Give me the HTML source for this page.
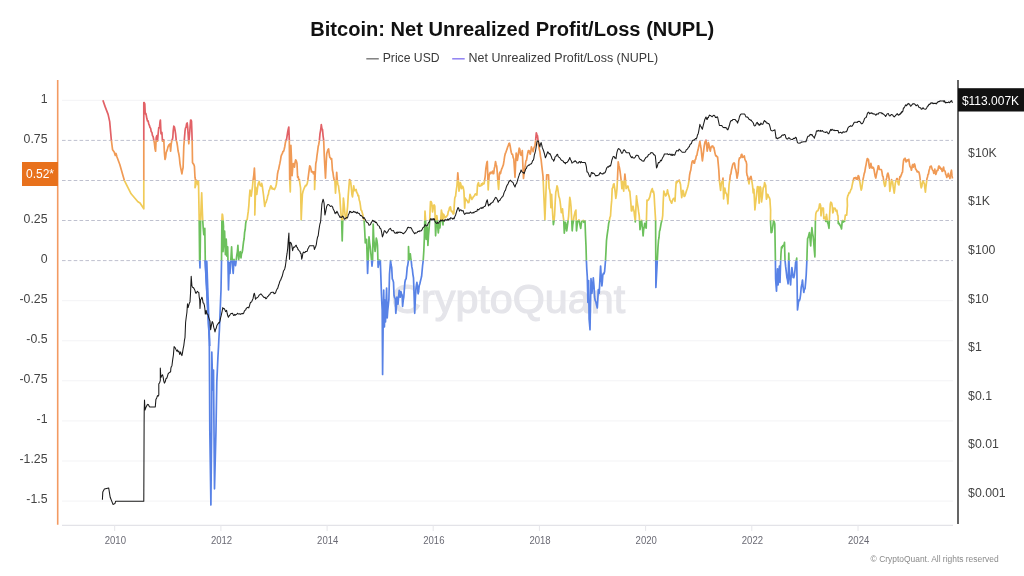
<!DOCTYPE html>
<html><head><meta charset="utf-8"><style>
html,body{margin:0;padding:0;background:#fff;}
body{width:1024px;height:576px;overflow:hidden;position:relative;font-family:"Liberation Sans",sans-serif;}
svg{position:absolute;left:0;top:0;will-change:transform;}
.ax{font-size:12.3px;fill:#444;}
.yr{font-size:10.2px;fill:#6a6a74;}
</style></head><body>
<svg width="1024" height="576" viewBox="0 0 1024 576">
<defs><clipPath id="c0"><rect x="0" y="0.00" width="1024" height="140.38"/></clipPath><clipPath id="c1"><rect x="0" y="140.38" width="1024" height="40.08"/></clipPath><clipPath id="c2"><rect x="0" y="180.45" width="1024" height="40.08"/></clipPath><clipPath id="c3"><rect x="0" y="220.53" width="1024" height="40.07"/></clipPath><clipPath id="c4"><rect x="0" y="260.60" width="1024" height="315.40"/></clipPath></defs>
<text x="310.2" y="36.3" font-size="19.6" font-weight="bold" fill="#111" textLength="404" lengthAdjust="spacingAndGlyphs">Bitcoin: Net Unrealized Profit/Loss (NUPL)</text>
<line x1="366.3" x2="378.8" y1="58.8" y2="58.8" stroke="#777" stroke-width="1.4"/>
<text x="382.7" y="62" font-size="12.2" fill="#3a3a3a">Price USD</text>
<line x1="452.2" x2="464.7" y1="58.8" y2="58.8" stroke="#8f80f2" stroke-width="1.5"/>
<text x="468.6" y="62" font-size="12.2" fill="#3a3a3a" textLength="189.5" lengthAdjust="spacingAndGlyphs">Net Unrealized Profit/Loss (NUPL)</text>
<line x1="62" x2="953" y1="100.3" y2="100.3" stroke="#f3f3f5" stroke-width="1"/><line x1="62" x2="953" y1="300.7" y2="300.7" stroke="#f3f3f5" stroke-width="1"/><line x1="62" x2="953" y1="340.8" y2="340.8" stroke="#f3f3f5" stroke-width="1"/><line x1="62" x2="953" y1="380.8" y2="380.8" stroke="#f3f3f5" stroke-width="1"/><line x1="62" x2="953" y1="420.9" y2="420.9" stroke="#f3f3f5" stroke-width="1"/><line x1="62" x2="953" y1="461.0" y2="461.0" stroke="#f3f3f5" stroke-width="1"/><line x1="62" x2="953" y1="501.1" y2="501.1" stroke="#f3f3f5" stroke-width="1"/><line x1="62" x2="953" y1="140.4" y2="140.4" stroke="#bfc1cf" stroke-width="1" stroke-dasharray="3.6 2.25"/><line x1="62" x2="953" y1="180.5" y2="180.5" stroke="#bfc1cf" stroke-width="1" stroke-dasharray="3.6 2.25"/><line x1="62" x2="953" y1="220.5" y2="220.5" stroke="#bfc1cf" stroke-width="1" stroke-dasharray="3.6 2.25"/><line x1="62" x2="953" y1="260.6" y2="260.6" stroke="#bfc1cf" stroke-width="1" stroke-dasharray="3.6 2.25"/>
<line x1="62" x2="953" y1="525.3" y2="525.3" stroke="#e3e3e8" stroke-width="1.2"/>
<line x1="114.7" x2="114.7" y1="525" y2="531" stroke="#e6e6ea" stroke-width="1"/><text x="104.7" y="544.2" class="yr" textLength="21.3" lengthAdjust="spacingAndGlyphs">2010</text><line x1="220.9" x2="220.9" y1="525" y2="531" stroke="#e6e6ea" stroke-width="1"/><text x="210.9" y="544.2" class="yr" textLength="21.3" lengthAdjust="spacingAndGlyphs">2012</text><line x1="327.1" x2="327.1" y1="525" y2="531" stroke="#e6e6ea" stroke-width="1"/><text x="317.1" y="544.2" class="yr" textLength="21.3" lengthAdjust="spacingAndGlyphs">2014</text><line x1="433.2" x2="433.2" y1="525" y2="531" stroke="#e6e6ea" stroke-width="1"/><text x="423.2" y="544.2" class="yr" textLength="21.3" lengthAdjust="spacingAndGlyphs">2016</text><line x1="539.4" x2="539.4" y1="525" y2="531" stroke="#e6e6ea" stroke-width="1"/><text x="529.4" y="544.2" class="yr" textLength="21.3" lengthAdjust="spacingAndGlyphs">2018</text><line x1="645.6" x2="645.6" y1="525" y2="531" stroke="#e6e6ea" stroke-width="1"/><text x="635.6" y="544.2" class="yr" textLength="21.3" lengthAdjust="spacingAndGlyphs">2020</text><line x1="751.8" x2="751.8" y1="525" y2="531" stroke="#e6e6ea" stroke-width="1"/><text x="741.8" y="544.2" class="yr" textLength="21.3" lengthAdjust="spacingAndGlyphs">2022</text><line x1="858.0" x2="858.0" y1="525" y2="531" stroke="#e6e6ea" stroke-width="1"/><text x="848.0" y="544.2" class="yr" textLength="21.3" lengthAdjust="spacingAndGlyphs">2024</text>
<text x="391.3" y="313" font-size="40.5" fill="#e5e5ea" stroke="#e5e5ea" stroke-width="1.1" textLength="233.8" lengthAdjust="spacingAndGlyphs">CryptoQuant</text>
<line x1="57.7" x2="57.7" y1="80" y2="524.8" stroke="#f39a62" stroke-width="1.6"/>
<line x1="958" x2="958" y1="80" y2="524" stroke="#555" stroke-width="1.8"/>
<text x="47.5" y="102.6" text-anchor="end" class="ax">1</text><text x="47.5" y="142.7" text-anchor="end" class="ax">0.75</text><text x="47.5" y="222.8" text-anchor="end" class="ax">0.25</text><text x="47.5" y="262.9" text-anchor="end" class="ax">0</text><text x="47.5" y="303.0" text-anchor="end" class="ax">-0.25</text><text x="47.5" y="343.1" text-anchor="end" class="ax">-0.5</text><text x="47.5" y="383.1" text-anchor="end" class="ax">-0.75</text><text x="47.5" y="423.2" text-anchor="end" class="ax">-1</text><text x="47.5" y="463.3" text-anchor="end" class="ax">-1.25</text><text x="47.5" y="503.4" text-anchor="end" class="ax">-1.5</text>
<text x="968.1" y="156.8" class="ax">$10K</text><text x="968.1" y="205.4" class="ax">$1K</text><text x="968.1" y="254.0" class="ax">$100</text><text x="968.1" y="302.6" class="ax">$10</text><text x="968.1" y="351.2" class="ax">$1</text><text x="968.1" y="399.8" class="ax">$0.1</text><text x="968.1" y="448.4" class="ax">$0.01</text><text x="968.1" y="497.0" class="ax">$0.001</text>
<path d="M102.9 100.2L105.2 106.9L108.1 114.4L109.7 121.6L111.3 139.7L112.6 149.8L114.2 152.0L115.3 155.5L116.0 153.5L117.0 157.0L119.8 164.5L124.3 180.3L131.1 193.8L137.9 201.7L140.0 203.0L143.8 208.8L143.8 102.5L144.2 102.6L144.8 103.8L145.2 113.8L145.8 113.3L146.2 115.0L146.9 118.8L147.5 121.0L148.1 120.9L148.8 124.1L149.4 125.3L150.0 127.5L150.6 128.2L151.2 131.7L151.9 132.3L152.5 135.6L153.1 136.5L153.8 140.0L154.4 143.1L155.0 148.8L155.6 151.2L156.2 137.5L156.9 135.6L157.5 141.2L158.1 134.1L158.8 127.5L159.2 127.9L159.6 126.2L160.0 121.9L160.4 120.0L161.0 133.8L161.4 132.2L161.9 132.5L162.5 141.2L163.1 141.0L163.8 140.0L164.4 152.5L165.0 159.4L165.6 157.4L166.2 152.5L166.9 150.9L167.5 148.8L168.1 146.5L168.8 145.0L169.4 145.9L170.0 143.8L170.6 151.2L171.2 144.2L171.9 140.0L172.3 139.9L172.8 137.5L173.2 131.2L173.8 126.2L174.4 127.0L175.0 130.0L175.6 133.8L176.2 140.0L176.9 142.5L177.5 146.2L178.1 151.0L178.8 153.8L179.4 157.7L180.0 163.8L180.6 167.3L181.3 170.9L181.9 173.8L182.5 170.2L183.1 167.5L183.8 146.2L184.4 138.9L185.0 131.2L185.5 128.0L186.0 127.5L186.6 123.8L187.2 123.0L187.7 127.4L188.1 133.8L188.8 143.8L189.2 138.1L189.8 131.2L190.2 125.4L190.6 120.0L191.1 120.0L191.5 121.2L191.9 132.1L192.2 142.5L192.5 162.5L193.1 163.6L193.8 164.4L194.4 166.2L195.0 177.5L195.4 179.4L195.0 187.7L195.5 186.2L196.0 183.5L196.5 180.4L197.0 181.0L197.4 183.4L197.9 184.6L198.5 181.5L199.2 220.0L199.6 259.6L200.0 268.0L200.6 220.0L201.1 206.5L201.7 192.9L202.2 207.7L202.7 220.0L203.2 228.0L203.8 234.6L204.3 230.8L204.8 228.3L205.3 262.0L206.0 276.2L206.6 286.1L207.3 300.0L206.8 290.0L209.3 340.0L209.8 430.0L210.9 505.0L211.6 430.0L211.8 352.0L212.3 370.7L212.8 390.0L213.5 370.0L214.0 430.0L214.5 488.8L216.0 430.0L216.8 382.0L217.3 371.2L217.9 357.6L218.5 347.0L218.9 338.5L219.4 330.0L221.0 290.0L221.5 262.5L221.9 220.3L222.2 214.0L222.6 214.9L223.0 218.8L223.5 226.6L223.0 251.6L223.5 245.4L224.1 238.9L224.6 231.2L225.0 243.2L225.4 254.7L225.8 248.1L226.2 239.0L226.6 247.0L226.9 256.2L227.3 252.2L227.7 246.9L228.5 290.0L228.9 276.6L229.3 262.5L230.0 273.4L230.5 264.8L231.1 255.6L231.6 246.9L232.0 255.8L232.4 262.5L232.8 269.4L233.2 273.4L233.6 266.3L234.0 259.4L234.5 262.0L235.0 262.1L235.5 265.6L235.9 263.1L236.3 259.4L236.8 255.2L237.4 251.6L237.9 245.3L238.3 253.4L238.7 259.4L239.2 256.1L239.7 253.8L240.2 251.6L240.6 255.2L241.0 257.8L241.5 253.7L242.1 252.5L242.6 250.0L243.1 245.3L243.6 241.4L244.1 239.0L244.6 232.4L245.2 229.5L245.7 223.4L246.2 220.9L246.7 220.0L247.2 219.5L247.8 214.7L248.2 211.9L248.8 206.2L249.4 196.8L250.0 190.0L250.6 193.0L251.2 196.2L251.9 191.0L252.5 186.6L253.1 180.0L253.8 175.1L254.4 168.1L255.0 180.0L254.8 215.0L255.2 202.2L255.6 187.0L256.2 189.9L256.8 194.3L257.4 189.2L258.0 184.6L258.6 182.6L259.3 181.5L259.9 184.9L260.5 185.8L261.1 186.1L261.7 183.4L262.3 185.9L262.9 190.7L263.5 194.9L264.1 200.4L264.7 206.5L265.3 203.6L266.0 202.4L266.6 200.4L267.2 198.7L267.8 195.6L268.4 194.3L269.0 190.6L269.6 189.8L270.2 187.5L270.8 185.8L271.4 186.8L272.0 188.8L272.6 188.2L273.2 189.2L273.9 189.1L274.5 189.5L275.1 188.2L275.7 186.8L276.3 184.6L276.9 180.0L277.5 174.0L278.1 170.8L278.7 169.2L279.3 165.9L279.9 163.2L280.5 160.1L281.1 156.2L281.7 154.6L282.4 153.4L283.0 151.3L283.6 151.3L284.2 149.3L284.8 146.5L285.4 142.7L286.0 140.2L286.6 139.2L287.2 135.2L287.7 132.0L288.2 129.5L288.8 127.0L289.3 140.4L289.7 180.0L290.3 191.9L290.9 145.3L291.5 159.1L292.1 175.7L292.7 168.0L293.3 163.5L293.9 164.2L294.5 167.1L295.1 162.2L295.7 159.8L296.4 161.2L297.0 163.5L297.6 177.3L298.2 176.6L298.8 180.1L299.4 179.7L300.0 184.3L300.6 188.2L301.2 219.8L301.8 205.9L302.4 194.3L303.0 191.5L303.6 189.7L304.2 188.2L304.8 187.0L305.5 185.4L306.1 185.8L306.7 184.9L307.3 183.3L307.9 179.7L308.5 175.0L309.1 170.4L309.7 165.9L310.3 166.6L310.9 168.7L311.5 172.0L312.1 171.7L312.7 171.7L313.4 173.8L314.0 171.9L314.6 173.2L314.6 189.5L315.2 175.0L315.8 163.5L316.4 160.9L317.0 155.5L317.6 151.3L318.2 146.5L318.8 144.2L319.4 140.4L320.0 133.6L320.7 130.0L321.3 124.6L321.9 128.6L322.5 129.5L323.1 136.1L323.7 140.4L324.3 156.2L324.9 167.8L325.5 178.1L326.1 165.2L326.7 153.8L327.3 151.7L328.0 149.5L328.6 148.9L329.2 154.0L329.8 157.4L330.4 157.9L331.0 159.1L331.6 158.6L332.0 163.8L332.4 170.0L333.0 172.8L333.6 177.3L334.2 180.1L334.9 180.9L335.5 193.1L336.1 184.3L336.7 172.4L337.3 180.9L337.9 184.5L338.5 185.8L339.1 191.0L339.7 194.3L340.3 204.5L340.9 212.6L341.2 216.4L341.6 218.6L342.2 241.0L342.8 218.6L343.4 198.0L344.0 203.2L344.6 210.1L345.2 216.2L345.8 217.5L346.4 218.6L347.0 212.1L347.6 206.5L348.2 196.1L348.9 187.1L349.5 179.7L350.1 180.2L350.7 182.2L351.3 187.5L351.9 194.3L352.5 196.8L353.1 191.9L353.7 185.8L354.3 189.7L354.9 190.7L355.5 189.9L356.1 189.5L356.8 192.7L357.4 193.1L358.0 195.9L358.6 195.5L359.2 200.0L359.8 201.6L360.4 205.4L361.0 210.1L361.6 210.5L362.2 212.6L362.8 214.7L363.4 218.6L363.8 218.3L364.1 219.9L364.7 230.5L365.3 243.0L366.0 241.5L366.6 239.3L367.2 259.3L367.6 273.4L368.3 256.4L369.0 236.9L369.6 242.8L370.2 246.6L370.8 252.6L371.4 258.8L372.0 266.1L372.6 260.0L373.2 224.1L373.8 239.3L374.5 245.9L375.1 251.5L375.7 245.8L376.3 238.1L376.9 240.4L377.5 245.4L378.1 267.3L378.7 264.2L379.3 260.0L379.8 261.6L380.3 260.6L380.9 277.6L381.4 292.7L381.8 302.2L382.2 310.0L382.6 374.4L383.2 320.0L383.7 290.0L384.4 327.0L384.9 300.0L385.5 322.0L386.0 304.1L386.6 288.1L387.2 318.0L387.7 311.0L388.3 305.2L388.9 299.5L389.5 274.3L390.1 266.4L390.6 260.6L391.1 265.0L391.7 267.5L392.3 278.9L392.9 280.1L393.5 282.3L394.0 295.0L394.6 297.7L395.2 298.4L395.8 313.3L396.4 306.8L396.9 297.2L397.4 300.3L398.0 304.1L398.6 296.9L399.2 290.4L399.8 295.2L400.3 297.2L400.9 291.5L401.5 294.0L402.1 295.0L402.6 306.4L403.2 300.7L403.8 297.2L404.4 288.6L404.9 282.3L405.5 279.5L406.1 278.9L406.6 274.5L407.2 267.5L407.8 265.0L408.4 260.6L408.5 246.6L409.1 260.0L409.7 255.8L410.3 253.9L410.8 258.3L411.2 260.6L411.8 266.7L412.4 269.7L412.9 274.3L413.5 277.8L414.1 295.1L414.7 313.3L415.2 302.0L415.8 290.4L416.4 285.2L416.9 282.3L417.5 286.5L418.1 293.8L418.6 291.3L419.2 285.8L419.8 284.0L420.4 281.3L421.0 278.9L421.6 276.3L422.1 270.9L422.6 265.5L423.2 260.6L423.8 251.1L424.3 239.3L425.0 211.2L425.6 220.0L426.1 239.3L426.7 234.3L427.3 227.2L427.9 245.4L428.5 235.4L429.2 227.2L429.7 220.2L430.1 210.1L430.5 201.5L431.1 201.6L431.7 203.0L432.1 206.7L432.5 212.0L433.1 209.0L433.6 205.4L434.2 205.0L434.8 206.2L435.2 220.0L435.6 235.8L436.0 228.6L436.4 222.0L436.8 215.5L437.1 217.6L437.5 222.0L437.9 228.8L438.3 233.0L438.8 228.0L439.2 224.0L439.9 228.0L440.3 223.9L440.7 220.0L441.4 210.0L441.8 212.3L442.2 214.0L442.6 220.7L443.0 224.9L443.3 214.0L444.0 214.9L444.6 216.3L445.1 217.9L445.6 216.8L446.1 217.1L446.6 216.4L447.2 215.6L447.7 214.8L448.3 211.3L448.9 210.7L449.4 207.9L450.0 207.0L450.5 206.9L451.1 211.0L451.6 211.6L452.1 211.1L452.7 212.6L453.2 213.9L453.8 213.8L454.2 206.4L454.7 198.8L455.1 196.9L455.6 196.2L456.0 192.3L456.4 189.3L456.9 186.2L457.4 179.7L457.8 172.8L458.4 180.1L459.0 191.1L459.6 187.8L460.3 182.6L460.9 184.3L461.5 188.6L462.1 187.6L462.7 186.2L463.3 187.8L463.9 191.1L464.3 198.9L464.7 208.1L465.3 198.1L465.9 199.8L466.4 199.7L466.9 200.7L467.5 201.2L468.1 202.7L468.8 202.5L469.4 199.8L470.0 194.4L470.6 195.9L471.3 198.1L471.9 199.4L472.5 198.4L473.1 197.3L473.8 196.2L474.4 196.0L475.0 194.4L475.6 193.8L476.2 194.5L476.9 195.0L477.5 185.0L478.0 183.7L478.5 182.6L479.1 185.8L479.7 186.2L480.3 186.0L480.9 185.8L481.5 183.8L482.0 185.3L482.6 183.1L483.1 184.1L483.6 184.0L484.1 183.6L484.6 180.3L485.2 176.3L485.8 169.0L486.4 165.1L486.9 162.1L487.3 161.5L487.8 175.6L488.2 190.0L488.7 181.1L489.2 175.0L489.7 173.5L490.2 172.3L490.8 173.6L491.3 172.4L491.9 172.7L492.5 171.2L493.1 173.7L493.7 173.6L494.3 168.5L494.9 166.2L495.5 161.5L496.1 164.4L496.7 166.3L497.3 172.9L498.0 183.0L498.6 189.5L499.0 183.2L499.4 174.0L499.9 172.2L500.5 173.6L501.0 171.2L501.6 169.2L502.2 167.9L502.8 166.3L503.4 164.6L504.0 160.9L504.6 156.6L505.3 153.5L505.9 152.3L506.5 150.5L507.1 148.9L507.7 146.8L508.3 145.7L508.9 143.5L509.5 143.2L510.1 145.7L510.7 149.3L511.3 152.5L511.9 154.2L512.5 154.3L513.2 157.6L513.8 159.0L514.4 168.0L515.0 177.3L515.6 163.6L516.2 153.0L516.8 156.1L517.4 160.3L518.0 156.6L518.6 152.2L519.2 148.1L519.8 149.1L520.5 154.5L521.1 155.4L521.7 153.9L522.3 150.5L522.9 166.0L523.5 178.5L524.1 172.8L524.7 168.8L525.3 165.1L525.9 160.8L526.5 160.3L527.1 156.6L527.8 152.8L528.4 150.5L529.0 150.5L529.6 152.7L530.2 154.2L530.8 151.9L531.4 146.9L532.0 149.5L532.6 149.3L533.2 151.7L533.8 148.2L534.4 146.9L535.0 145.2L535.6 140.8L536.3 132.9L536.9 134.6L537.5 135.9L538.1 140.8L538.7 145.7L539.3 149.3L539.9 151.6L540.5 156.6L541.1 159.4L541.7 165.1L542.4 171.2L543.0 176.1L544.9 219.8L545.5 203.8L546.1 188.2L546.7 174.9L548.5 174.9L549.1 188.2L549.7 189.9L550.3 194.3L550.9 207.7L551.2 202.4L551.6 194.3L552.2 205.7L552.8 216.2L553.4 224.7L554.0 220.8L554.6 215.0L555.2 202.1L555.8 191.9L556.4 190.0L557.0 185.8L557.6 187.5L558.2 191.9L558.8 196.3L559.5 198.2L560.1 201.6L560.7 206.6L561.3 212.6L561.9 210.9L562.5 208.9L563.1 215.7L563.7 219.8L564.3 233.2L564.9 227.0L565.5 222.3L566.1 225.4L566.7 230.8L567.4 226.0L568.0 221.1L568.6 216.2L569.2 206.0L569.8 197.4L570.4 200.7L571.0 206.5L571.6 217.6L572.2 230.8L572.8 224.5L573.4 221.1L574.0 216.5L574.7 213.8L575.3 211.3L575.9 210.1L576.5 230.8L577.1 225.3L577.7 221.1L578.3 221.3L578.9 219.8L579.5 222.0L580.1 225.5L580.7 228.4L581.3 223.7L581.9 221.1L582.5 221.0L583.2 220.4L583.8 222.3L584.4 220.9L585.0 221.1L585.5 235.0L586.0 246.2L586.4 260.5L586.8 269.4L587.3 276.9L587.9 302.4L588.2 291.7L588.6 280.6L589.1 318.8L589.5 323.3L590.0 329.8L591.0 278.7L591.5 285.9L591.9 293.3L592.6 286.9L593.3 277.8L594.0 286.1L594.6 297.0L595.2 300.5L595.8 301.6L596.4 304.3L596.8 306.1L597.3 307.9L597.8 299.9L598.3 289.7L598.8 291.2L599.2 293.3L599.9 279.7L600.6 266.0L601.2 276.6L601.9 286.0L602.3 282.1L602.8 275.1L603.4 273.4L604.0 273.8L604.6 271.5L605.0 266.7L605.5 260.5L606.0 250.9L606.5 240.5L607.0 236.2L607.6 231.9L608.1 228.4L608.7 223.3L609.3 221.1L609.9 217.5L610.5 216.2L611.1 206.9L611.7 200.4L612.2 188.6L612.8 187.8L613.4 184.6L614.0 183.8L614.6 187.6L615.2 192.2L615.8 198.4L616.4 194.6L617.0 188.6L617.6 176.4L618.2 161.9L618.9 165.5L619.5 168.0L620.1 171.6L620.7 176.5L621.3 181.7L621.9 188.6L622.5 181.3L623.1 185.5L623.7 191.1L624.3 182.4L624.9 174.0L625.5 180.2L626.1 188.6L626.7 187.6L627.4 186.2L628.0 186.2L628.6 189.3L629.2 191.0L629.8 191.1L630.2 195.7L630.6 200.0L631.0 204.6L631.4 210.9L631.9 210.8L632.5 207.2L633.0 206.2L633.5 208.9L634.0 210.9L634.5 215.6L634.9 218.4L635.3 221.9L635.9 208.8L636.5 195.9L636.9 200.0L637.5 203.9L638.0 206.8L638.6 211.7L639.2 215.6L639.6 221.1L640.0 229.7L640.5 225.8L641.1 222.1L641.6 220.3L642.1 225.2L642.6 229.2L643.1 235.9L643.6 230.2L644.2 226.9L644.7 223.4L645.2 224.1L645.7 226.8L646.2 228.1L646.6 214.1L647.0 200.0L647.5 200.7L648.1 200.2L648.6 199.6L649.2 198.3L649.9 196.7L650.5 193.5L651.1 191.5L651.7 189.7L652.3 188.6L652.9 192.2L653.5 191.5L654.1 194.7L654.6 204.0L655.1 212.2L655.6 220.3L655.9 287.5L658.0 246.9L658.5 240.2L659.0 237.5L659.5 231.2L660.0 229.9L660.6 226.4L661.1 223.4L661.6 221.5L662.2 219.2L662.7 215.6L663.2 202.2L663.8 191.1L664.4 192.8L665.1 194.3L665.7 195.9L666.3 195.0L666.9 192.9L667.5 189.9L668.1 193.3L668.7 195.0L669.3 197.1L669.9 199.9L670.5 200.7L671.1 202.3L671.7 203.2L672.3 201.1L673.0 199.3L673.6 198.4L674.2 198.4L674.6 199.4L675.0 201.3L675.6 190.3L676.2 181.9L676.8 182.8L677.4 181.7L678.0 181.3L678.6 181.1L679.3 180.1L679.9 182.6L680.5 184.3L681.1 191.6L681.7 197.7L682.3 194.0L682.9 190.4L683.5 191.9L684.1 196.5L684.7 196.2L685.3 194.8L685.9 192.8L686.5 190.8L687.2 188.8L687.8 186.7L688.4 184.2L689.0 180.7L689.6 175.0L690.2 172.0L690.8 170.0L691.4 165.6L692.0 162.2L692.6 160.8L693.2 160.8L693.9 163.1L694.5 163.2L695.1 159.8L695.7 159.1L696.3 155.9L696.9 155.4L697.5 151.8L698.1 149.8L698.7 146.6L699.3 144.1L699.9 141.3L700.5 145.5L701.1 148.6L701.8 155.6L702.4 160.8L703.0 156.3L703.6 151.5L704.2 146.2L704.8 142.8L705.4 141.0L706.0 140.1L706.6 144.8L707.2 151.1L707.8 147.6L708.4 142.6L709.0 144.8L709.7 148.5L710.3 151.1L710.9 147.9L711.5 146.4L712.1 146.2L712.7 145.9L713.3 147.6L713.9 147.4L714.5 150.8L715.1 153.6L715.7 155.9L716.3 155.6L717.0 156.8L717.6 157.1L718.2 163.4L718.8 170.0L719.4 180.7L720.0 185.4L720.6 190.4L721.2 184.9L721.8 181.9L722.4 181.3L723.0 178.2L723.6 198.9L724.2 192.5L724.8 188.0L725.4 191.5L726.1 193.4L726.7 194.0L727.3 197.4L727.9 203.8L728.5 193.9L729.1 184.3L729.7 180.7L730.3 175.0L730.9 173.9L731.5 169.7L732.1 167.3L732.8 164.4L733.4 163.4L734.0 162.9L734.6 163.6L735.2 168.1L735.8 169.7L736.4 173.0L737.0 178.2L737.6 175.5L738.2 172.2L738.8 160.8L739.4 158.1L740.0 157.8L740.7 157.7L741.3 154.7L741.9 154.3L742.5 157.3L743.1 157.1L743.7 156.5L744.3 155.9L744.9 159.3L745.5 160.8L746.1 161.4L746.7 164.4L746.6 172.1L747.1 175.4L747.6 176.2L748.0 179.0L748.5 181.4L749.0 183.9L749.7 178.9L750.4 177.0L751.0 176.4L751.5 179.0L752.0 182.1L752.5 185.3L752.9 188.9L753.2 192.9L753.9 189.4L754.4 199.1L754.9 210.0L755.5 203.8L756.0 199.9L756.7 192.8L757.4 186.7L757.9 186.5L758.4 187.4L758.8 196.4L759.1 203.3L759.6 193.4L760.1 186.7L760.8 188.0L761.1 195.8L761.5 202.0L762.2 197.5L762.9 190.8L763.2 187.9L763.6 187.4L764.1 186.3L764.6 182.5L765.2 184.6L765.7 185.3L766.4 199.2L766.9 198.0L767.4 194.3L768.0 194.7L768.5 196.4L769.2 197.4L769.9 199.2L770.2 204.3L770.6 210.0L770.5 220.4L771.1 232.6L771.8 232.3L772.4 228.9L773.0 224.9L773.6 220.4L774.2 221.8L774.8 224.0L775.4 260.0L775.6 278.8L776.0 284.8L776.5 291.2L777.0 279.3L777.5 268.8L778.1 285.0L778.8 274.2L779.4 266.2L780.0 282.5L780.6 262.5L781.0 253.5L781.5 247.1L782.1 247.8L782.7 245.6L783.3 245.9L783.9 245.5L784.5 242.3L785.0 260.0L785.6 266.2L786.2 271.1L786.9 277.5L787.5 279.9L788.1 283.8L788.8 253.2L789.4 275.0L790.0 280.0L790.6 285.0L791.2 275.3L791.9 267.5L792.5 272.1L793.1 277.5L793.8 277.7L794.4 275.0L795.0 270.0L795.6 262.5L796.2 261.3L796.7 258.1L797.5 310.0L798.1 305.4L798.8 300.0L799.4 300.7L800.0 298.8L800.6 294.5L801.2 287.5L801.9 283.9L802.5 280.0L803.1 287.0L803.8 292.5L804.4 289.2L805.0 288.8L805.6 282.6L806.2 275.0L806.9 260.0L807.2 249.1L807.6 238.6L808.2 237.4L808.8 235.1L809.4 232.6L810.0 238.6L810.7 245.9L811.3 235.4L811.9 227.7L812.5 233.3L813.1 236.2L813.7 241.9L814.3 249.9L814.9 256.9L815.4 220.7L815.8 213.8L816.3 212.3L816.7 211.3L817.2 211.0L817.9 210.7L818.5 208.9L819.0 208.0L819.6 204.0L820.1 203.9L820.6 205.4L821.0 215.8L821.5 212.5L822.0 208.2L823.4 208.2L823.8 218.6L824.4 217.3L825.1 217.2L825.8 221.4L826.1 218.1L826.5 214.4L827.0 218.3L827.6 222.8L828.3 224.5L829.0 228.3L829.6 215.8L830.3 204.0L830.8 202.2L831.4 202.6L831.9 204.1L832.4 207.5L832.8 213.0L833.3 211.9L833.8 208.2L834.4 208.7L835.0 208.2L835.6 209.6L836.2 211.3L836.9 210.3L837.5 214.6L838.0 215.8L838.3 223.5L838.8 223.8L839.2 223.3L839.7 224.9L840.2 225.0L840.8 227.0L841.1 226.7L841.5 229.0L841.9 224.7L842.2 221.4L842.7 220.4L843.2 222.1L843.9 220.9L844.6 221.4L845.3 215.1L846.7 215.1L847.4 205.4L847.2 198.6L847.8 195.8L848.4 194.8L849.0 192.6L849.6 192.9L850.2 191.5L850.9 189.5L851.5 188.9L852.1 185.6L852.7 182.8L853.3 180.5L853.9 178.0L854.5 177.9L855.1 178.1L855.7 177.5L856.3 179.2L856.9 177.7L857.5 179.1L858.2 175.7L858.8 176.1L859.4 179.5L860.0 182.8L860.6 186.9L861.2 190.1L861.8 188.2L862.4 184.0L863.0 179.4L863.6 176.7L864.2 173.6L864.8 171.9L865.5 167.4L866.1 164.6L866.7 161.2L867.3 158.5L867.9 158.9L868.5 159.7L869.1 165.4L869.7 168.2L870.3 166.9L870.9 163.4L871.5 167.0L872.1 168.2L872.7 167.1L873.4 167.6L874.0 169.5L874.6 173.0L875.2 176.4L875.8 178.0L876.4 174.9L877.0 171.9L877.6 169.1L878.2 165.8L878.8 166.1L879.4 169.5L881.3 169.5L881.9 171.6L882.5 175.7L883.1 176.7L883.7 181.0L884.3 184.4L884.9 186.5L885.5 185.2L886.1 180.0L886.7 178.0L887.3 174.3L887.9 173.1L888.5 175.0L889.2 179.2L889.8 191.3L890.4 187.5L891.0 184.1L891.6 179.6L892.1 182.1L892.6 181.7L893.1 186.2L893.7 189.8L894.2 193.1L894.7 189.3L895.2 183.8L895.7 181.9L896.3 180.4L896.8 178.5L897.3 178.6L897.8 181.7L898.3 184.2L898.9 184.8L899.4 179.8L899.9 176.5L900.4 177.1L901.0 175.6L901.5 174.4L902.0 172.7L902.5 172.3L903.0 165.4L903.5 160.8L904.0 159.1L904.6 159.5L905.1 158.2L905.6 160.7L906.1 161.9L906.6 160.3L907.2 159.8L907.7 160.8L908.2 160.1L908.8 159.3L909.3 162.9L909.8 166.0L910.3 167.0L910.9 167.9L911.4 170.2L911.9 167.9L912.4 165.0L912.9 164.5L913.4 167.1L914.0 164.9L914.5 164.0L915.0 165.6L915.5 168.9L916.0 169.2L916.5 170.3L917.1 171.8L917.6 171.2L918.1 171.9L918.7 171.8L919.2 173.3L919.7 175.6L920.2 179.6L920.7 185.2L921.2 187.9L921.8 186.5L922.3 183.2L922.8 181.7L923.3 180.9L923.9 183.1L924.4 183.8L924.9 188.5L925.4 192.1L925.9 187.3L926.5 182.3L927.0 178.5L927.5 177.0L928.0 174.4L928.5 174.0L929.1 170.1L929.6 169.2L930.1 166.6L930.6 166.5L931.1 166.0L931.6 167.1L932.2 169.4L932.7 170.2L933.2 170.8L933.8 173.3L934.3 172.2L934.8 169.2L935.3 172.6L935.8 174.4L936.3 173.0L936.9 170.7L937.4 170.2L937.9 170.3L938.5 166.8L939.0 166.0L939.7 168.1L940.3 167.3L941.0 169.2L941.5 169.0L942.1 171.4L942.6 171.2L943.1 168.5L943.6 167.1L944.1 170.4L944.7 170.7L945.2 171.6L945.7 174.4L946.2 175.1L946.8 177.5L947.3 175.8L947.8 175.2L948.3 173.3L948.8 176.5L949.4 175.6L949.9 178.5L950.4 175.4L951.0 172.0L951.5 170.2L952.0 175.9L952.5 178.5" fill="none" stroke="#e26166" stroke-width="1.7" stroke-linejoin="round" clip-path="url(#c0)"/><path d="M102.9 100.2L105.2 106.9L108.1 114.4L109.7 121.6L111.3 139.7L112.6 149.8L114.2 152.0L115.3 155.5L116.0 153.5L117.0 157.0L119.8 164.5L124.3 180.3L131.1 193.8L137.9 201.7L140.0 203.0L143.8 208.8L143.8 102.5L144.2 102.6L144.8 103.8L145.2 113.8L145.8 113.3L146.2 115.0L146.9 118.8L147.5 121.0L148.1 120.9L148.8 124.1L149.4 125.3L150.0 127.5L150.6 128.2L151.2 131.7L151.9 132.3L152.5 135.6L153.1 136.5L153.8 140.0L154.4 143.1L155.0 148.8L155.6 151.2L156.2 137.5L156.9 135.6L157.5 141.2L158.1 134.1L158.8 127.5L159.2 127.9L159.6 126.2L160.0 121.9L160.4 120.0L161.0 133.8L161.4 132.2L161.9 132.5L162.5 141.2L163.1 141.0L163.8 140.0L164.4 152.5L165.0 159.4L165.6 157.4L166.2 152.5L166.9 150.9L167.5 148.8L168.1 146.5L168.8 145.0L169.4 145.9L170.0 143.8L170.6 151.2L171.2 144.2L171.9 140.0L172.3 139.9L172.8 137.5L173.2 131.2L173.8 126.2L174.4 127.0L175.0 130.0L175.6 133.8L176.2 140.0L176.9 142.5L177.5 146.2L178.1 151.0L178.8 153.8L179.4 157.7L180.0 163.8L180.6 167.3L181.3 170.9L181.9 173.8L182.5 170.2L183.1 167.5L183.8 146.2L184.4 138.9L185.0 131.2L185.5 128.0L186.0 127.5L186.6 123.8L187.2 123.0L187.7 127.4L188.1 133.8L188.8 143.8L189.2 138.1L189.8 131.2L190.2 125.4L190.6 120.0L191.1 120.0L191.5 121.2L191.9 132.1L192.2 142.5L192.5 162.5L193.1 163.6L193.8 164.4L194.4 166.2L195.0 177.5L195.4 179.4L195.0 187.7L195.5 186.2L196.0 183.5L196.5 180.4L197.0 181.0L197.4 183.4L197.9 184.6L198.5 181.5L199.2 220.0L199.6 259.6L200.0 268.0L200.6 220.0L201.1 206.5L201.7 192.9L202.2 207.7L202.7 220.0L203.2 228.0L203.8 234.6L204.3 230.8L204.8 228.3L205.3 262.0L206.0 276.2L206.6 286.1L207.3 300.0L206.8 290.0L209.3 340.0L209.8 430.0L210.9 505.0L211.6 430.0L211.8 352.0L212.3 370.7L212.8 390.0L213.5 370.0L214.0 430.0L214.5 488.8L216.0 430.0L216.8 382.0L217.3 371.2L217.9 357.6L218.5 347.0L218.9 338.5L219.4 330.0L221.0 290.0L221.5 262.5L221.9 220.3L222.2 214.0L222.6 214.9L223.0 218.8L223.5 226.6L223.0 251.6L223.5 245.4L224.1 238.9L224.6 231.2L225.0 243.2L225.4 254.7L225.8 248.1L226.2 239.0L226.6 247.0L226.9 256.2L227.3 252.2L227.7 246.9L228.5 290.0L228.9 276.6L229.3 262.5L230.0 273.4L230.5 264.8L231.1 255.6L231.6 246.9L232.0 255.8L232.4 262.5L232.8 269.4L233.2 273.4L233.6 266.3L234.0 259.4L234.5 262.0L235.0 262.1L235.5 265.6L235.9 263.1L236.3 259.4L236.8 255.2L237.4 251.6L237.9 245.3L238.3 253.4L238.7 259.4L239.2 256.1L239.7 253.8L240.2 251.6L240.6 255.2L241.0 257.8L241.5 253.7L242.1 252.5L242.6 250.0L243.1 245.3L243.6 241.4L244.1 239.0L244.6 232.4L245.2 229.5L245.7 223.4L246.2 220.9L246.7 220.0L247.2 219.5L247.8 214.7L248.2 211.9L248.8 206.2L249.4 196.8L250.0 190.0L250.6 193.0L251.2 196.2L251.9 191.0L252.5 186.6L253.1 180.0L253.8 175.1L254.4 168.1L255.0 180.0L254.8 215.0L255.2 202.2L255.6 187.0L256.2 189.9L256.8 194.3L257.4 189.2L258.0 184.6L258.6 182.6L259.3 181.5L259.9 184.9L260.5 185.8L261.1 186.1L261.7 183.4L262.3 185.9L262.9 190.7L263.5 194.9L264.1 200.4L264.7 206.5L265.3 203.6L266.0 202.4L266.6 200.4L267.2 198.7L267.8 195.6L268.4 194.3L269.0 190.6L269.6 189.8L270.2 187.5L270.8 185.8L271.4 186.8L272.0 188.8L272.6 188.2L273.2 189.2L273.9 189.1L274.5 189.5L275.1 188.2L275.7 186.8L276.3 184.6L276.9 180.0L277.5 174.0L278.1 170.8L278.7 169.2L279.3 165.9L279.9 163.2L280.5 160.1L281.1 156.2L281.7 154.6L282.4 153.4L283.0 151.3L283.6 151.3L284.2 149.3L284.8 146.5L285.4 142.7L286.0 140.2L286.6 139.2L287.2 135.2L287.7 132.0L288.2 129.5L288.8 127.0L289.3 140.4L289.7 180.0L290.3 191.9L290.9 145.3L291.5 159.1L292.1 175.7L292.7 168.0L293.3 163.5L293.9 164.2L294.5 167.1L295.1 162.2L295.7 159.8L296.4 161.2L297.0 163.5L297.6 177.3L298.2 176.6L298.8 180.1L299.4 179.7L300.0 184.3L300.6 188.2L301.2 219.8L301.8 205.9L302.4 194.3L303.0 191.5L303.6 189.7L304.2 188.2L304.8 187.0L305.5 185.4L306.1 185.8L306.7 184.9L307.3 183.3L307.9 179.7L308.5 175.0L309.1 170.4L309.7 165.9L310.3 166.6L310.9 168.7L311.5 172.0L312.1 171.7L312.7 171.7L313.4 173.8L314.0 171.9L314.6 173.2L314.6 189.5L315.2 175.0L315.8 163.5L316.4 160.9L317.0 155.5L317.6 151.3L318.2 146.5L318.8 144.2L319.4 140.4L320.0 133.6L320.7 130.0L321.3 124.6L321.9 128.6L322.5 129.5L323.1 136.1L323.7 140.4L324.3 156.2L324.9 167.8L325.5 178.1L326.1 165.2L326.7 153.8L327.3 151.7L328.0 149.5L328.6 148.9L329.2 154.0L329.8 157.4L330.4 157.9L331.0 159.1L331.6 158.6L332.0 163.8L332.4 170.0L333.0 172.8L333.6 177.3L334.2 180.1L334.9 180.9L335.5 193.1L336.1 184.3L336.7 172.4L337.3 180.9L337.9 184.5L338.5 185.8L339.1 191.0L339.7 194.3L340.3 204.5L340.9 212.6L341.2 216.4L341.6 218.6L342.2 241.0L342.8 218.6L343.4 198.0L344.0 203.2L344.6 210.1L345.2 216.2L345.8 217.5L346.4 218.6L347.0 212.1L347.6 206.5L348.2 196.1L348.9 187.1L349.5 179.7L350.1 180.2L350.7 182.2L351.3 187.5L351.9 194.3L352.5 196.8L353.1 191.9L353.7 185.8L354.3 189.7L354.9 190.7L355.5 189.9L356.1 189.5L356.8 192.7L357.4 193.1L358.0 195.9L358.6 195.5L359.2 200.0L359.8 201.6L360.4 205.4L361.0 210.1L361.6 210.5L362.2 212.6L362.8 214.7L363.4 218.6L363.8 218.3L364.1 219.9L364.7 230.5L365.3 243.0L366.0 241.5L366.6 239.3L367.2 259.3L367.6 273.4L368.3 256.4L369.0 236.9L369.6 242.8L370.2 246.6L370.8 252.6L371.4 258.8L372.0 266.1L372.6 260.0L373.2 224.1L373.8 239.3L374.5 245.9L375.1 251.5L375.7 245.8L376.3 238.1L376.9 240.4L377.5 245.4L378.1 267.3L378.7 264.2L379.3 260.0L379.8 261.6L380.3 260.6L380.9 277.6L381.4 292.7L381.8 302.2L382.2 310.0L382.6 374.4L383.2 320.0L383.7 290.0L384.4 327.0L384.9 300.0L385.5 322.0L386.0 304.1L386.6 288.1L387.2 318.0L387.7 311.0L388.3 305.2L388.9 299.5L389.5 274.3L390.1 266.4L390.6 260.6L391.1 265.0L391.7 267.5L392.3 278.9L392.9 280.1L393.5 282.3L394.0 295.0L394.6 297.7L395.2 298.4L395.8 313.3L396.4 306.8L396.9 297.2L397.4 300.3L398.0 304.1L398.6 296.9L399.2 290.4L399.8 295.2L400.3 297.2L400.9 291.5L401.5 294.0L402.1 295.0L402.6 306.4L403.2 300.7L403.8 297.2L404.4 288.6L404.9 282.3L405.5 279.5L406.1 278.9L406.6 274.5L407.2 267.5L407.8 265.0L408.4 260.6L408.5 246.6L409.1 260.0L409.7 255.8L410.3 253.9L410.8 258.3L411.2 260.6L411.8 266.7L412.4 269.7L412.9 274.3L413.5 277.8L414.1 295.1L414.7 313.3L415.2 302.0L415.8 290.4L416.4 285.2L416.9 282.3L417.5 286.5L418.1 293.8L418.6 291.3L419.2 285.8L419.8 284.0L420.4 281.3L421.0 278.9L421.6 276.3L422.1 270.9L422.6 265.5L423.2 260.6L423.8 251.1L424.3 239.3L425.0 211.2L425.6 220.0L426.1 239.3L426.7 234.3L427.3 227.2L427.9 245.4L428.5 235.4L429.2 227.2L429.7 220.2L430.1 210.1L430.5 201.5L431.1 201.6L431.7 203.0L432.1 206.7L432.5 212.0L433.1 209.0L433.6 205.4L434.2 205.0L434.8 206.2L435.2 220.0L435.6 235.8L436.0 228.6L436.4 222.0L436.8 215.5L437.1 217.6L437.5 222.0L437.9 228.8L438.3 233.0L438.8 228.0L439.2 224.0L439.9 228.0L440.3 223.9L440.7 220.0L441.4 210.0L441.8 212.3L442.2 214.0L442.6 220.7L443.0 224.9L443.3 214.0L444.0 214.9L444.6 216.3L445.1 217.9L445.6 216.8L446.1 217.1L446.6 216.4L447.2 215.6L447.7 214.8L448.3 211.3L448.9 210.7L449.4 207.9L450.0 207.0L450.5 206.9L451.1 211.0L451.6 211.6L452.1 211.1L452.7 212.6L453.2 213.9L453.8 213.8L454.2 206.4L454.7 198.8L455.1 196.9L455.6 196.2L456.0 192.3L456.4 189.3L456.9 186.2L457.4 179.7L457.8 172.8L458.4 180.1L459.0 191.1L459.6 187.8L460.3 182.6L460.9 184.3L461.5 188.6L462.1 187.6L462.7 186.2L463.3 187.8L463.9 191.1L464.3 198.9L464.7 208.1L465.3 198.1L465.9 199.8L466.4 199.7L466.9 200.7L467.5 201.2L468.1 202.7L468.8 202.5L469.4 199.8L470.0 194.4L470.6 195.9L471.3 198.1L471.9 199.4L472.5 198.4L473.1 197.3L473.8 196.2L474.4 196.0L475.0 194.4L475.6 193.8L476.2 194.5L476.9 195.0L477.5 185.0L478.0 183.7L478.5 182.6L479.1 185.8L479.7 186.2L480.3 186.0L480.9 185.8L481.5 183.8L482.0 185.3L482.6 183.1L483.1 184.1L483.6 184.0L484.1 183.6L484.6 180.3L485.2 176.3L485.8 169.0L486.4 165.1L486.9 162.1L487.3 161.5L487.8 175.6L488.2 190.0L488.7 181.1L489.2 175.0L489.7 173.5L490.2 172.3L490.8 173.6L491.3 172.4L491.9 172.7L492.5 171.2L493.1 173.7L493.7 173.6L494.3 168.5L494.9 166.2L495.5 161.5L496.1 164.4L496.7 166.3L497.3 172.9L498.0 183.0L498.6 189.5L499.0 183.2L499.4 174.0L499.9 172.2L500.5 173.6L501.0 171.2L501.6 169.2L502.2 167.9L502.8 166.3L503.4 164.6L504.0 160.9L504.6 156.6L505.3 153.5L505.9 152.3L506.5 150.5L507.1 148.9L507.7 146.8L508.3 145.7L508.9 143.5L509.5 143.2L510.1 145.7L510.7 149.3L511.3 152.5L511.9 154.2L512.5 154.3L513.2 157.6L513.8 159.0L514.4 168.0L515.0 177.3L515.6 163.6L516.2 153.0L516.8 156.1L517.4 160.3L518.0 156.6L518.6 152.2L519.2 148.1L519.8 149.1L520.5 154.5L521.1 155.4L521.7 153.9L522.3 150.5L522.9 166.0L523.5 178.5L524.1 172.8L524.7 168.8L525.3 165.1L525.9 160.8L526.5 160.3L527.1 156.6L527.8 152.8L528.4 150.5L529.0 150.5L529.6 152.7L530.2 154.2L530.8 151.9L531.4 146.9L532.0 149.5L532.6 149.3L533.2 151.7L533.8 148.2L534.4 146.9L535.0 145.2L535.6 140.8L536.3 132.9L536.9 134.6L537.5 135.9L538.1 140.8L538.7 145.7L539.3 149.3L539.9 151.6L540.5 156.6L541.1 159.4L541.7 165.1L542.4 171.2L543.0 176.1L544.9 219.8L545.5 203.8L546.1 188.2L546.7 174.9L548.5 174.9L549.1 188.2L549.7 189.9L550.3 194.3L550.9 207.7L551.2 202.4L551.6 194.3L552.2 205.7L552.8 216.2L553.4 224.7L554.0 220.8L554.6 215.0L555.2 202.1L555.8 191.9L556.4 190.0L557.0 185.8L557.6 187.5L558.2 191.9L558.8 196.3L559.5 198.2L560.1 201.6L560.7 206.6L561.3 212.6L561.9 210.9L562.5 208.9L563.1 215.7L563.7 219.8L564.3 233.2L564.9 227.0L565.5 222.3L566.1 225.4L566.7 230.8L567.4 226.0L568.0 221.1L568.6 216.2L569.2 206.0L569.8 197.4L570.4 200.7L571.0 206.5L571.6 217.6L572.2 230.8L572.8 224.5L573.4 221.1L574.0 216.5L574.7 213.8L575.3 211.3L575.9 210.1L576.5 230.8L577.1 225.3L577.7 221.1L578.3 221.3L578.9 219.8L579.5 222.0L580.1 225.5L580.7 228.4L581.3 223.7L581.9 221.1L582.5 221.0L583.2 220.4L583.8 222.3L584.4 220.9L585.0 221.1L585.5 235.0L586.0 246.2L586.4 260.5L586.8 269.4L587.3 276.9L587.9 302.4L588.2 291.7L588.6 280.6L589.1 318.8L589.5 323.3L590.0 329.8L591.0 278.7L591.5 285.9L591.9 293.3L592.6 286.9L593.3 277.8L594.0 286.1L594.6 297.0L595.2 300.5L595.8 301.6L596.4 304.3L596.8 306.1L597.3 307.9L597.8 299.9L598.3 289.7L598.8 291.2L599.2 293.3L599.9 279.7L600.6 266.0L601.2 276.6L601.9 286.0L602.3 282.1L602.8 275.1L603.4 273.4L604.0 273.8L604.6 271.5L605.0 266.7L605.5 260.5L606.0 250.9L606.5 240.5L607.0 236.2L607.6 231.9L608.1 228.4L608.7 223.3L609.3 221.1L609.9 217.5L610.5 216.2L611.1 206.9L611.7 200.4L612.2 188.6L612.8 187.8L613.4 184.6L614.0 183.8L614.6 187.6L615.2 192.2L615.8 198.4L616.4 194.6L617.0 188.6L617.6 176.4L618.2 161.9L618.9 165.5L619.5 168.0L620.1 171.6L620.7 176.5L621.3 181.7L621.9 188.6L622.5 181.3L623.1 185.5L623.7 191.1L624.3 182.4L624.9 174.0L625.5 180.2L626.1 188.6L626.7 187.6L627.4 186.2L628.0 186.2L628.6 189.3L629.2 191.0L629.8 191.1L630.2 195.7L630.6 200.0L631.0 204.6L631.4 210.9L631.9 210.8L632.5 207.2L633.0 206.2L633.5 208.9L634.0 210.9L634.5 215.6L634.9 218.4L635.3 221.9L635.9 208.8L636.5 195.9L636.9 200.0L637.5 203.9L638.0 206.8L638.6 211.7L639.2 215.6L639.6 221.1L640.0 229.7L640.5 225.8L641.1 222.1L641.6 220.3L642.1 225.2L642.6 229.2L643.1 235.9L643.6 230.2L644.2 226.9L644.7 223.4L645.2 224.1L645.7 226.8L646.2 228.1L646.6 214.1L647.0 200.0L647.5 200.7L648.1 200.2L648.6 199.6L649.2 198.3L649.9 196.7L650.5 193.5L651.1 191.5L651.7 189.7L652.3 188.6L652.9 192.2L653.5 191.5L654.1 194.7L654.6 204.0L655.1 212.2L655.6 220.3L655.9 287.5L658.0 246.9L658.5 240.2L659.0 237.5L659.5 231.2L660.0 229.9L660.6 226.4L661.1 223.4L661.6 221.5L662.2 219.2L662.7 215.6L663.2 202.2L663.8 191.1L664.4 192.8L665.1 194.3L665.7 195.9L666.3 195.0L666.9 192.9L667.5 189.9L668.1 193.3L668.7 195.0L669.3 197.1L669.9 199.9L670.5 200.7L671.1 202.3L671.7 203.2L672.3 201.1L673.0 199.3L673.6 198.4L674.2 198.4L674.6 199.4L675.0 201.3L675.6 190.3L676.2 181.9L676.8 182.8L677.4 181.7L678.0 181.3L678.6 181.1L679.3 180.1L679.9 182.6L680.5 184.3L681.1 191.6L681.7 197.7L682.3 194.0L682.9 190.4L683.5 191.9L684.1 196.5L684.7 196.2L685.3 194.8L685.9 192.8L686.5 190.8L687.2 188.8L687.8 186.7L688.4 184.2L689.0 180.7L689.6 175.0L690.2 172.0L690.8 170.0L691.4 165.6L692.0 162.2L692.6 160.8L693.2 160.8L693.9 163.1L694.5 163.2L695.1 159.8L695.7 159.1L696.3 155.9L696.9 155.4L697.5 151.8L698.1 149.8L698.7 146.6L699.3 144.1L699.9 141.3L700.5 145.5L701.1 148.6L701.8 155.6L702.4 160.8L703.0 156.3L703.6 151.5L704.2 146.2L704.8 142.8L705.4 141.0L706.0 140.1L706.6 144.8L707.2 151.1L707.8 147.6L708.4 142.6L709.0 144.8L709.7 148.5L710.3 151.1L710.9 147.9L711.5 146.4L712.1 146.2L712.7 145.9L713.3 147.6L713.9 147.4L714.5 150.8L715.1 153.6L715.7 155.9L716.3 155.6L717.0 156.8L717.6 157.1L718.2 163.4L718.8 170.0L719.4 180.7L720.0 185.4L720.6 190.4L721.2 184.9L721.8 181.9L722.4 181.3L723.0 178.2L723.6 198.9L724.2 192.5L724.8 188.0L725.4 191.5L726.1 193.4L726.7 194.0L727.3 197.4L727.9 203.8L728.5 193.9L729.1 184.3L729.7 180.7L730.3 175.0L730.9 173.9L731.5 169.7L732.1 167.3L732.8 164.4L733.4 163.4L734.0 162.9L734.6 163.6L735.2 168.1L735.8 169.7L736.4 173.0L737.0 178.2L737.6 175.5L738.2 172.2L738.8 160.8L739.4 158.1L740.0 157.8L740.7 157.7L741.3 154.7L741.9 154.3L742.5 157.3L743.1 157.1L743.7 156.5L744.3 155.9L744.9 159.3L745.5 160.8L746.1 161.4L746.7 164.4L746.6 172.1L747.1 175.4L747.6 176.2L748.0 179.0L748.5 181.4L749.0 183.9L749.7 178.9L750.4 177.0L751.0 176.4L751.5 179.0L752.0 182.1L752.5 185.3L752.9 188.9L753.2 192.9L753.9 189.4L754.4 199.1L754.9 210.0L755.5 203.8L756.0 199.9L756.7 192.8L757.4 186.7L757.9 186.5L758.4 187.4L758.8 196.4L759.1 203.3L759.6 193.4L760.1 186.7L760.8 188.0L761.1 195.8L761.5 202.0L762.2 197.5L762.9 190.8L763.2 187.9L763.6 187.4L764.1 186.3L764.6 182.5L765.2 184.6L765.7 185.3L766.4 199.2L766.9 198.0L767.4 194.3L768.0 194.7L768.5 196.4L769.2 197.4L769.9 199.2L770.2 204.3L770.6 210.0L770.5 220.4L771.1 232.6L771.8 232.3L772.4 228.9L773.0 224.9L773.6 220.4L774.2 221.8L774.8 224.0L775.4 260.0L775.6 278.8L776.0 284.8L776.5 291.2L777.0 279.3L777.5 268.8L778.1 285.0L778.8 274.2L779.4 266.2L780.0 282.5L780.6 262.5L781.0 253.5L781.5 247.1L782.1 247.8L782.7 245.6L783.3 245.9L783.9 245.5L784.5 242.3L785.0 260.0L785.6 266.2L786.2 271.1L786.9 277.5L787.5 279.9L788.1 283.8L788.8 253.2L789.4 275.0L790.0 280.0L790.6 285.0L791.2 275.3L791.9 267.5L792.5 272.1L793.1 277.5L793.8 277.7L794.4 275.0L795.0 270.0L795.6 262.5L796.2 261.3L796.7 258.1L797.5 310.0L798.1 305.4L798.8 300.0L799.4 300.7L800.0 298.8L800.6 294.5L801.2 287.5L801.9 283.9L802.5 280.0L803.1 287.0L803.8 292.5L804.4 289.2L805.0 288.8L805.6 282.6L806.2 275.0L806.9 260.0L807.2 249.1L807.6 238.6L808.2 237.4L808.8 235.1L809.4 232.6L810.0 238.6L810.7 245.9L811.3 235.4L811.9 227.7L812.5 233.3L813.1 236.2L813.7 241.9L814.3 249.9L814.9 256.9L815.4 220.7L815.8 213.8L816.3 212.3L816.7 211.3L817.2 211.0L817.9 210.7L818.5 208.9L819.0 208.0L819.6 204.0L820.1 203.9L820.6 205.4L821.0 215.8L821.5 212.5L822.0 208.2L823.4 208.2L823.8 218.6L824.4 217.3L825.1 217.2L825.8 221.4L826.1 218.1L826.5 214.4L827.0 218.3L827.6 222.8L828.3 224.5L829.0 228.3L829.6 215.8L830.3 204.0L830.8 202.2L831.4 202.6L831.9 204.1L832.4 207.5L832.8 213.0L833.3 211.9L833.8 208.2L834.4 208.7L835.0 208.2L835.6 209.6L836.2 211.3L836.9 210.3L837.5 214.6L838.0 215.8L838.3 223.5L838.8 223.8L839.2 223.3L839.7 224.9L840.2 225.0L840.8 227.0L841.1 226.7L841.5 229.0L841.9 224.7L842.2 221.4L842.7 220.4L843.2 222.1L843.9 220.9L844.6 221.4L845.3 215.1L846.7 215.1L847.4 205.4L847.2 198.6L847.8 195.8L848.4 194.8L849.0 192.6L849.6 192.9L850.2 191.5L850.9 189.5L851.5 188.9L852.1 185.6L852.7 182.8L853.3 180.5L853.9 178.0L854.5 177.9L855.1 178.1L855.7 177.5L856.3 179.2L856.9 177.7L857.5 179.1L858.2 175.7L858.8 176.1L859.4 179.5L860.0 182.8L860.6 186.9L861.2 190.1L861.8 188.2L862.4 184.0L863.0 179.4L863.6 176.7L864.2 173.6L864.8 171.9L865.5 167.4L866.1 164.6L866.7 161.2L867.3 158.5L867.9 158.9L868.5 159.7L869.1 165.4L869.7 168.2L870.3 166.9L870.9 163.4L871.5 167.0L872.1 168.2L872.7 167.1L873.4 167.6L874.0 169.5L874.6 173.0L875.2 176.4L875.8 178.0L876.4 174.9L877.0 171.9L877.6 169.1L878.2 165.8L878.8 166.1L879.4 169.5L881.3 169.5L881.9 171.6L882.5 175.7L883.1 176.7L883.7 181.0L884.3 184.4L884.9 186.5L885.5 185.2L886.1 180.0L886.7 178.0L887.3 174.3L887.9 173.1L888.5 175.0L889.2 179.2L889.8 191.3L890.4 187.5L891.0 184.1L891.6 179.6L892.1 182.1L892.6 181.7L893.1 186.2L893.7 189.8L894.2 193.1L894.7 189.3L895.2 183.8L895.7 181.9L896.3 180.4L896.8 178.5L897.3 178.6L897.8 181.7L898.3 184.2L898.9 184.8L899.4 179.8L899.9 176.5L900.4 177.1L901.0 175.6L901.5 174.4L902.0 172.7L902.5 172.3L903.0 165.4L903.5 160.8L904.0 159.1L904.6 159.5L905.1 158.2L905.6 160.7L906.1 161.9L906.6 160.3L907.2 159.8L907.7 160.8L908.2 160.1L908.8 159.3L909.3 162.9L909.8 166.0L910.3 167.0L910.9 167.9L911.4 170.2L911.9 167.9L912.4 165.0L912.9 164.5L913.4 167.1L914.0 164.9L914.5 164.0L915.0 165.6L915.5 168.9L916.0 169.2L916.5 170.3L917.1 171.8L917.6 171.2L918.1 171.9L918.7 171.8L919.2 173.3L919.7 175.6L920.2 179.6L920.7 185.2L921.2 187.9L921.8 186.5L922.3 183.2L922.8 181.7L923.3 180.9L923.9 183.1L924.4 183.8L924.9 188.5L925.4 192.1L925.9 187.3L926.5 182.3L927.0 178.5L927.5 177.0L928.0 174.4L928.5 174.0L929.1 170.1L929.6 169.2L930.1 166.6L930.6 166.5L931.1 166.0L931.6 167.1L932.2 169.4L932.7 170.2L933.2 170.8L933.8 173.3L934.3 172.2L934.8 169.2L935.3 172.6L935.8 174.4L936.3 173.0L936.9 170.7L937.4 170.2L937.9 170.3L938.5 166.8L939.0 166.0L939.7 168.1L940.3 167.3L941.0 169.2L941.5 169.0L942.1 171.4L942.6 171.2L943.1 168.5L943.6 167.1L944.1 170.4L944.7 170.7L945.2 171.6L945.7 174.4L946.2 175.1L946.8 177.5L947.3 175.8L947.8 175.2L948.3 173.3L948.8 176.5L949.4 175.6L949.9 178.5L950.4 175.4L951.0 172.0L951.5 170.2L952.0 175.9L952.5 178.5" fill="none" stroke="#f09a55" stroke-width="1.7" stroke-linejoin="round" clip-path="url(#c1)"/><path d="M102.9 100.2L105.2 106.9L108.1 114.4L109.7 121.6L111.3 139.7L112.6 149.8L114.2 152.0L115.3 155.5L116.0 153.5L117.0 157.0L119.8 164.5L124.3 180.3L131.1 193.8L137.9 201.7L140.0 203.0L143.8 208.8L143.8 102.5L144.2 102.6L144.8 103.8L145.2 113.8L145.8 113.3L146.2 115.0L146.9 118.8L147.5 121.0L148.1 120.9L148.8 124.1L149.4 125.3L150.0 127.5L150.6 128.2L151.2 131.7L151.9 132.3L152.5 135.6L153.1 136.5L153.8 140.0L154.4 143.1L155.0 148.8L155.6 151.2L156.2 137.5L156.9 135.6L157.5 141.2L158.1 134.1L158.8 127.5L159.2 127.9L159.6 126.2L160.0 121.9L160.4 120.0L161.0 133.8L161.4 132.2L161.9 132.5L162.5 141.2L163.1 141.0L163.8 140.0L164.4 152.5L165.0 159.4L165.6 157.4L166.2 152.5L166.9 150.9L167.5 148.8L168.1 146.5L168.8 145.0L169.4 145.9L170.0 143.8L170.6 151.2L171.2 144.2L171.9 140.0L172.3 139.9L172.8 137.5L173.2 131.2L173.8 126.2L174.4 127.0L175.0 130.0L175.6 133.8L176.2 140.0L176.9 142.5L177.5 146.2L178.1 151.0L178.8 153.8L179.4 157.7L180.0 163.8L180.6 167.3L181.3 170.9L181.9 173.8L182.5 170.2L183.1 167.5L183.8 146.2L184.4 138.9L185.0 131.2L185.5 128.0L186.0 127.5L186.6 123.8L187.2 123.0L187.7 127.4L188.1 133.8L188.8 143.8L189.2 138.1L189.8 131.2L190.2 125.4L190.6 120.0L191.1 120.0L191.5 121.2L191.9 132.1L192.2 142.5L192.5 162.5L193.1 163.6L193.8 164.4L194.4 166.2L195.0 177.5L195.4 179.4L195.0 187.7L195.5 186.2L196.0 183.5L196.5 180.4L197.0 181.0L197.4 183.4L197.9 184.6L198.5 181.5L199.2 220.0L199.6 259.6L200.0 268.0L200.6 220.0L201.1 206.5L201.7 192.9L202.2 207.7L202.7 220.0L203.2 228.0L203.8 234.6L204.3 230.8L204.8 228.3L205.3 262.0L206.0 276.2L206.6 286.1L207.3 300.0L206.8 290.0L209.3 340.0L209.8 430.0L210.9 505.0L211.6 430.0L211.8 352.0L212.3 370.7L212.8 390.0L213.5 370.0L214.0 430.0L214.5 488.8L216.0 430.0L216.8 382.0L217.3 371.2L217.9 357.6L218.5 347.0L218.9 338.5L219.4 330.0L221.0 290.0L221.5 262.5L221.9 220.3L222.2 214.0L222.6 214.9L223.0 218.8L223.5 226.6L223.0 251.6L223.5 245.4L224.1 238.9L224.6 231.2L225.0 243.2L225.4 254.7L225.8 248.1L226.2 239.0L226.6 247.0L226.9 256.2L227.3 252.2L227.7 246.9L228.5 290.0L228.9 276.6L229.3 262.5L230.0 273.4L230.5 264.8L231.1 255.6L231.6 246.9L232.0 255.8L232.4 262.5L232.8 269.4L233.2 273.4L233.6 266.3L234.0 259.4L234.5 262.0L235.0 262.1L235.5 265.6L235.9 263.1L236.3 259.4L236.8 255.2L237.4 251.6L237.9 245.3L238.3 253.4L238.7 259.4L239.2 256.1L239.7 253.8L240.2 251.6L240.6 255.2L241.0 257.8L241.5 253.7L242.1 252.5L242.6 250.0L243.1 245.3L243.6 241.4L244.1 239.0L244.6 232.4L245.2 229.5L245.7 223.4L246.2 220.9L246.7 220.0L247.2 219.5L247.8 214.7L248.2 211.9L248.8 206.2L249.4 196.8L250.0 190.0L250.6 193.0L251.2 196.2L251.9 191.0L252.5 186.6L253.1 180.0L253.8 175.1L254.4 168.1L255.0 180.0L254.8 215.0L255.2 202.2L255.6 187.0L256.2 189.9L256.8 194.3L257.4 189.2L258.0 184.6L258.6 182.6L259.3 181.5L259.9 184.9L260.5 185.8L261.1 186.1L261.7 183.4L262.3 185.9L262.9 190.7L263.5 194.9L264.1 200.4L264.7 206.5L265.3 203.6L266.0 202.4L266.6 200.4L267.2 198.7L267.8 195.6L268.4 194.3L269.0 190.6L269.6 189.8L270.2 187.5L270.8 185.8L271.4 186.8L272.0 188.8L272.6 188.2L273.2 189.2L273.9 189.1L274.5 189.5L275.1 188.2L275.7 186.8L276.3 184.6L276.9 180.0L277.5 174.0L278.1 170.8L278.7 169.2L279.3 165.9L279.9 163.2L280.5 160.1L281.1 156.2L281.7 154.6L282.4 153.4L283.0 151.3L283.6 151.3L284.2 149.3L284.8 146.5L285.4 142.7L286.0 140.2L286.6 139.2L287.2 135.2L287.7 132.0L288.2 129.5L288.8 127.0L289.3 140.4L289.7 180.0L290.3 191.9L290.9 145.3L291.5 159.1L292.1 175.7L292.7 168.0L293.3 163.5L293.9 164.2L294.5 167.1L295.1 162.2L295.7 159.8L296.4 161.2L297.0 163.5L297.6 177.3L298.2 176.6L298.8 180.1L299.4 179.7L300.0 184.3L300.6 188.2L301.2 219.8L301.8 205.9L302.4 194.3L303.0 191.5L303.6 189.7L304.2 188.2L304.8 187.0L305.5 185.4L306.1 185.8L306.7 184.9L307.3 183.3L307.9 179.7L308.5 175.0L309.1 170.4L309.7 165.9L310.3 166.6L310.9 168.7L311.5 172.0L312.1 171.7L312.7 171.7L313.4 173.8L314.0 171.9L314.6 173.2L314.6 189.5L315.2 175.0L315.8 163.5L316.4 160.9L317.0 155.5L317.6 151.3L318.2 146.5L318.8 144.2L319.4 140.4L320.0 133.6L320.7 130.0L321.3 124.6L321.9 128.6L322.5 129.5L323.1 136.1L323.7 140.4L324.3 156.2L324.9 167.8L325.5 178.1L326.1 165.2L326.7 153.8L327.3 151.7L328.0 149.5L328.6 148.9L329.2 154.0L329.8 157.4L330.4 157.9L331.0 159.1L331.6 158.6L332.0 163.8L332.4 170.0L333.0 172.8L333.6 177.3L334.2 180.1L334.9 180.9L335.5 193.1L336.1 184.3L336.7 172.4L337.3 180.9L337.9 184.5L338.5 185.8L339.1 191.0L339.7 194.3L340.3 204.5L340.9 212.6L341.2 216.4L341.6 218.6L342.2 241.0L342.8 218.6L343.4 198.0L344.0 203.2L344.6 210.1L345.2 216.2L345.8 217.5L346.4 218.6L347.0 212.1L347.6 206.5L348.2 196.1L348.9 187.1L349.5 179.7L350.1 180.2L350.7 182.2L351.3 187.5L351.9 194.3L352.5 196.8L353.1 191.9L353.7 185.8L354.3 189.7L354.9 190.7L355.5 189.9L356.1 189.5L356.8 192.7L357.4 193.1L358.0 195.9L358.6 195.5L359.2 200.0L359.8 201.6L360.4 205.4L361.0 210.1L361.6 210.5L362.2 212.6L362.8 214.7L363.4 218.6L363.8 218.3L364.1 219.9L364.7 230.5L365.3 243.0L366.0 241.5L366.6 239.3L367.2 259.3L367.6 273.4L368.3 256.4L369.0 236.9L369.6 242.8L370.2 246.6L370.8 252.6L371.4 258.8L372.0 266.1L372.6 260.0L373.2 224.1L373.8 239.3L374.5 245.9L375.1 251.5L375.7 245.8L376.3 238.1L376.9 240.4L377.5 245.4L378.1 267.3L378.7 264.2L379.3 260.0L379.8 261.6L380.3 260.6L380.9 277.6L381.4 292.7L381.8 302.2L382.2 310.0L382.6 374.4L383.2 320.0L383.7 290.0L384.4 327.0L384.9 300.0L385.5 322.0L386.0 304.1L386.6 288.1L387.2 318.0L387.7 311.0L388.3 305.2L388.9 299.5L389.5 274.3L390.1 266.4L390.6 260.6L391.1 265.0L391.7 267.5L392.3 278.9L392.9 280.1L393.5 282.3L394.0 295.0L394.6 297.7L395.2 298.4L395.8 313.3L396.4 306.8L396.9 297.2L397.4 300.3L398.0 304.1L398.6 296.9L399.2 290.4L399.8 295.2L400.3 297.2L400.9 291.5L401.5 294.0L402.1 295.0L402.6 306.4L403.2 300.7L403.8 297.2L404.4 288.6L404.9 282.3L405.5 279.5L406.1 278.9L406.6 274.5L407.2 267.5L407.8 265.0L408.4 260.6L408.5 246.6L409.1 260.0L409.7 255.8L410.3 253.9L410.8 258.3L411.2 260.6L411.8 266.7L412.4 269.7L412.9 274.3L413.5 277.8L414.1 295.1L414.7 313.3L415.2 302.0L415.8 290.4L416.4 285.2L416.9 282.3L417.5 286.5L418.1 293.8L418.6 291.3L419.2 285.8L419.8 284.0L420.4 281.3L421.0 278.9L421.6 276.3L422.1 270.9L422.6 265.5L423.2 260.6L423.8 251.1L424.3 239.3L425.0 211.2L425.6 220.0L426.1 239.3L426.7 234.3L427.3 227.2L427.9 245.4L428.5 235.4L429.2 227.2L429.7 220.2L430.1 210.1L430.5 201.5L431.1 201.6L431.7 203.0L432.1 206.7L432.5 212.0L433.1 209.0L433.6 205.4L434.2 205.0L434.8 206.2L435.2 220.0L435.6 235.8L436.0 228.6L436.4 222.0L436.8 215.5L437.1 217.6L437.5 222.0L437.9 228.8L438.3 233.0L438.8 228.0L439.2 224.0L439.9 228.0L440.3 223.9L440.7 220.0L441.4 210.0L441.8 212.3L442.2 214.0L442.6 220.7L443.0 224.9L443.3 214.0L444.0 214.9L444.6 216.3L445.1 217.9L445.6 216.8L446.1 217.1L446.6 216.4L447.2 215.6L447.7 214.8L448.3 211.3L448.9 210.7L449.4 207.9L450.0 207.0L450.5 206.9L451.1 211.0L451.6 211.6L452.1 211.1L452.7 212.6L453.2 213.9L453.8 213.8L454.2 206.4L454.7 198.8L455.1 196.9L455.6 196.2L456.0 192.3L456.4 189.3L456.9 186.2L457.4 179.7L457.8 172.8L458.4 180.1L459.0 191.1L459.6 187.8L460.3 182.6L460.9 184.3L461.5 188.6L462.1 187.6L462.7 186.2L463.3 187.8L463.9 191.1L464.3 198.9L464.7 208.1L465.3 198.1L465.9 199.8L466.4 199.7L466.9 200.7L467.5 201.2L468.1 202.7L468.8 202.5L469.4 199.8L470.0 194.4L470.6 195.9L471.3 198.1L471.9 199.4L472.5 198.4L473.1 197.3L473.8 196.2L474.4 196.0L475.0 194.4L475.6 193.8L476.2 194.5L476.9 195.0L477.5 185.0L478.0 183.7L478.5 182.6L479.1 185.8L479.7 186.2L480.3 186.0L480.9 185.8L481.5 183.8L482.0 185.3L482.6 183.1L483.1 184.1L483.6 184.0L484.1 183.6L484.6 180.3L485.2 176.3L485.8 169.0L486.4 165.1L486.9 162.1L487.3 161.5L487.8 175.6L488.2 190.0L488.7 181.1L489.2 175.0L489.7 173.5L490.2 172.3L490.8 173.6L491.3 172.4L491.9 172.7L492.5 171.2L493.1 173.7L493.7 173.6L494.3 168.5L494.9 166.2L495.5 161.5L496.1 164.4L496.7 166.3L497.3 172.9L498.0 183.0L498.6 189.5L499.0 183.2L499.4 174.0L499.9 172.2L500.5 173.6L501.0 171.2L501.6 169.2L502.2 167.9L502.8 166.3L503.4 164.6L504.0 160.9L504.6 156.6L505.3 153.5L505.9 152.3L506.5 150.5L507.1 148.9L507.7 146.8L508.3 145.7L508.9 143.5L509.5 143.2L510.1 145.7L510.7 149.3L511.3 152.5L511.9 154.2L512.5 154.3L513.2 157.6L513.8 159.0L514.4 168.0L515.0 177.3L515.6 163.6L516.2 153.0L516.8 156.1L517.4 160.3L518.0 156.6L518.6 152.2L519.2 148.1L519.8 149.1L520.5 154.5L521.1 155.4L521.7 153.9L522.3 150.5L522.9 166.0L523.5 178.5L524.1 172.8L524.7 168.8L525.3 165.1L525.9 160.8L526.5 160.3L527.1 156.6L527.8 152.8L528.4 150.5L529.0 150.5L529.6 152.7L530.2 154.2L530.8 151.9L531.4 146.9L532.0 149.5L532.6 149.3L533.2 151.7L533.8 148.2L534.4 146.9L535.0 145.2L535.6 140.8L536.3 132.9L536.9 134.6L537.5 135.9L538.1 140.8L538.7 145.7L539.3 149.3L539.9 151.6L540.5 156.6L541.1 159.4L541.7 165.1L542.4 171.2L543.0 176.1L544.9 219.8L545.5 203.8L546.1 188.2L546.7 174.9L548.5 174.9L549.1 188.2L549.7 189.9L550.3 194.3L550.9 207.7L551.2 202.4L551.6 194.3L552.2 205.7L552.8 216.2L553.4 224.7L554.0 220.8L554.6 215.0L555.2 202.1L555.8 191.9L556.4 190.0L557.0 185.8L557.6 187.5L558.2 191.9L558.8 196.3L559.5 198.2L560.1 201.6L560.7 206.6L561.3 212.6L561.9 210.9L562.5 208.9L563.1 215.7L563.7 219.8L564.3 233.2L564.9 227.0L565.5 222.3L566.1 225.4L566.7 230.8L567.4 226.0L568.0 221.1L568.6 216.2L569.2 206.0L569.8 197.4L570.4 200.7L571.0 206.5L571.6 217.6L572.2 230.8L572.8 224.5L573.4 221.1L574.0 216.5L574.7 213.8L575.3 211.3L575.9 210.1L576.5 230.8L577.1 225.3L577.7 221.1L578.3 221.3L578.9 219.8L579.5 222.0L580.1 225.5L580.7 228.4L581.3 223.7L581.9 221.1L582.5 221.0L583.2 220.4L583.8 222.3L584.4 220.9L585.0 221.1L585.5 235.0L586.0 246.2L586.4 260.5L586.8 269.4L587.3 276.9L587.9 302.4L588.2 291.7L588.6 280.6L589.1 318.8L589.5 323.3L590.0 329.8L591.0 278.7L591.5 285.9L591.9 293.3L592.6 286.9L593.3 277.8L594.0 286.1L594.6 297.0L595.2 300.5L595.8 301.6L596.4 304.3L596.8 306.1L597.3 307.9L597.8 299.9L598.3 289.7L598.8 291.2L599.2 293.3L599.9 279.7L600.6 266.0L601.2 276.6L601.9 286.0L602.3 282.1L602.8 275.1L603.4 273.4L604.0 273.8L604.6 271.5L605.0 266.7L605.5 260.5L606.0 250.9L606.5 240.5L607.0 236.2L607.6 231.9L608.1 228.4L608.7 223.3L609.3 221.1L609.9 217.5L610.5 216.2L611.1 206.9L611.7 200.4L612.2 188.6L612.8 187.8L613.4 184.6L614.0 183.8L614.6 187.6L615.2 192.2L615.8 198.4L616.4 194.6L617.0 188.6L617.6 176.4L618.2 161.9L618.9 165.5L619.5 168.0L620.1 171.6L620.7 176.5L621.3 181.7L621.9 188.6L622.5 181.3L623.1 185.5L623.7 191.1L624.3 182.4L624.9 174.0L625.5 180.2L626.1 188.6L626.7 187.6L627.4 186.2L628.0 186.2L628.6 189.3L629.2 191.0L629.8 191.1L630.2 195.7L630.6 200.0L631.0 204.6L631.4 210.9L631.9 210.8L632.5 207.2L633.0 206.2L633.5 208.9L634.0 210.9L634.5 215.6L634.9 218.4L635.3 221.9L635.9 208.8L636.5 195.9L636.9 200.0L637.5 203.9L638.0 206.8L638.6 211.7L639.2 215.6L639.6 221.1L640.0 229.7L640.5 225.8L641.1 222.1L641.6 220.3L642.1 225.2L642.6 229.2L643.1 235.9L643.6 230.2L644.2 226.9L644.7 223.4L645.2 224.1L645.7 226.8L646.2 228.1L646.6 214.1L647.0 200.0L647.5 200.7L648.1 200.2L648.6 199.6L649.2 198.3L649.9 196.7L650.5 193.5L651.1 191.5L651.7 189.7L652.3 188.6L652.9 192.2L653.5 191.5L654.1 194.7L654.6 204.0L655.1 212.2L655.6 220.3L655.9 287.5L658.0 246.9L658.5 240.2L659.0 237.5L659.5 231.2L660.0 229.9L660.6 226.4L661.1 223.4L661.6 221.5L662.2 219.2L662.7 215.6L663.2 202.2L663.8 191.1L664.4 192.8L665.1 194.3L665.7 195.9L666.3 195.0L666.9 192.9L667.5 189.9L668.1 193.3L668.7 195.0L669.3 197.1L669.9 199.9L670.5 200.7L671.1 202.3L671.7 203.2L672.3 201.1L673.0 199.3L673.6 198.4L674.2 198.4L674.6 199.4L675.0 201.3L675.6 190.3L676.2 181.9L676.8 182.8L677.4 181.7L678.0 181.3L678.6 181.1L679.3 180.1L679.9 182.6L680.5 184.3L681.1 191.6L681.7 197.7L682.3 194.0L682.9 190.4L683.5 191.9L684.1 196.5L684.7 196.2L685.3 194.8L685.9 192.8L686.5 190.8L687.2 188.8L687.8 186.7L688.4 184.2L689.0 180.7L689.6 175.0L690.2 172.0L690.8 170.0L691.4 165.6L692.0 162.2L692.6 160.8L693.2 160.8L693.9 163.1L694.5 163.2L695.1 159.8L695.7 159.1L696.3 155.9L696.9 155.4L697.5 151.8L698.1 149.8L698.7 146.6L699.3 144.1L699.9 141.3L700.5 145.5L701.1 148.6L701.8 155.6L702.4 160.8L703.0 156.3L703.6 151.5L704.2 146.2L704.8 142.8L705.4 141.0L706.0 140.1L706.6 144.8L707.2 151.1L707.8 147.6L708.4 142.6L709.0 144.8L709.7 148.5L710.3 151.1L710.9 147.9L711.5 146.4L712.1 146.2L712.7 145.9L713.3 147.6L713.9 147.4L714.5 150.8L715.1 153.6L715.7 155.9L716.3 155.6L717.0 156.8L717.6 157.1L718.2 163.4L718.8 170.0L719.4 180.7L720.0 185.4L720.6 190.4L721.2 184.9L721.8 181.9L722.4 181.3L723.0 178.2L723.6 198.9L724.2 192.5L724.8 188.0L725.4 191.5L726.1 193.4L726.7 194.0L727.3 197.4L727.9 203.8L728.5 193.9L729.1 184.3L729.7 180.7L730.3 175.0L730.9 173.9L731.5 169.7L732.1 167.3L732.8 164.4L733.4 163.4L734.0 162.9L734.6 163.6L735.2 168.1L735.8 169.7L736.4 173.0L737.0 178.2L737.6 175.5L738.2 172.2L738.8 160.8L739.4 158.1L740.0 157.8L740.7 157.7L741.3 154.7L741.9 154.3L742.5 157.3L743.1 157.1L743.7 156.5L744.3 155.9L744.9 159.3L745.5 160.8L746.1 161.4L746.7 164.4L746.6 172.1L747.1 175.4L747.6 176.2L748.0 179.0L748.5 181.4L749.0 183.9L749.7 178.9L750.4 177.0L751.0 176.4L751.5 179.0L752.0 182.1L752.5 185.3L752.9 188.9L753.2 192.9L753.9 189.4L754.4 199.1L754.9 210.0L755.5 203.8L756.0 199.9L756.7 192.8L757.4 186.7L757.9 186.5L758.4 187.4L758.8 196.4L759.1 203.3L759.6 193.4L760.1 186.7L760.8 188.0L761.1 195.8L761.5 202.0L762.2 197.5L762.9 190.8L763.2 187.9L763.6 187.4L764.1 186.3L764.6 182.5L765.2 184.6L765.7 185.3L766.4 199.2L766.9 198.0L767.4 194.3L768.0 194.7L768.5 196.4L769.2 197.4L769.9 199.2L770.2 204.3L770.6 210.0L770.5 220.4L771.1 232.6L771.8 232.3L772.4 228.9L773.0 224.9L773.6 220.4L774.2 221.8L774.8 224.0L775.4 260.0L775.6 278.8L776.0 284.8L776.5 291.2L777.0 279.3L777.5 268.8L778.1 285.0L778.8 274.2L779.4 266.2L780.0 282.5L780.6 262.5L781.0 253.5L781.5 247.1L782.1 247.8L782.7 245.6L783.3 245.9L783.9 245.5L784.5 242.3L785.0 260.0L785.6 266.2L786.2 271.1L786.9 277.5L787.5 279.9L788.1 283.8L788.8 253.2L789.4 275.0L790.0 280.0L790.6 285.0L791.2 275.3L791.9 267.5L792.5 272.1L793.1 277.5L793.8 277.7L794.4 275.0L795.0 270.0L795.6 262.5L796.2 261.3L796.7 258.1L797.5 310.0L798.1 305.4L798.8 300.0L799.4 300.7L800.0 298.8L800.6 294.5L801.2 287.5L801.9 283.9L802.5 280.0L803.1 287.0L803.8 292.5L804.4 289.2L805.0 288.8L805.6 282.6L806.2 275.0L806.9 260.0L807.2 249.1L807.6 238.6L808.2 237.4L808.8 235.1L809.4 232.6L810.0 238.6L810.7 245.9L811.3 235.4L811.9 227.7L812.5 233.3L813.1 236.2L813.7 241.9L814.3 249.9L814.9 256.9L815.4 220.7L815.8 213.8L816.3 212.3L816.7 211.3L817.2 211.0L817.9 210.7L818.5 208.9L819.0 208.0L819.6 204.0L820.1 203.9L820.6 205.4L821.0 215.8L821.5 212.5L822.0 208.2L823.4 208.2L823.8 218.6L824.4 217.3L825.1 217.2L825.8 221.4L826.1 218.1L826.5 214.4L827.0 218.3L827.6 222.8L828.3 224.5L829.0 228.3L829.6 215.8L830.3 204.0L830.8 202.2L831.4 202.6L831.9 204.1L832.4 207.5L832.8 213.0L833.3 211.9L833.8 208.2L834.4 208.7L835.0 208.2L835.6 209.6L836.2 211.3L836.9 210.3L837.5 214.6L838.0 215.8L838.3 223.5L838.8 223.8L839.2 223.3L839.7 224.9L840.2 225.0L840.8 227.0L841.1 226.7L841.5 229.0L841.9 224.7L842.2 221.4L842.7 220.4L843.2 222.1L843.9 220.9L844.6 221.4L845.3 215.1L846.7 215.1L847.4 205.4L847.2 198.6L847.8 195.8L848.4 194.8L849.0 192.6L849.6 192.9L850.2 191.5L850.9 189.5L851.5 188.9L852.1 185.6L852.7 182.8L853.3 180.5L853.9 178.0L854.5 177.9L855.1 178.1L855.7 177.5L856.3 179.2L856.9 177.7L857.5 179.1L858.2 175.7L858.8 176.1L859.4 179.5L860.0 182.8L860.6 186.9L861.2 190.1L861.8 188.2L862.4 184.0L863.0 179.4L863.6 176.7L864.2 173.6L864.8 171.9L865.5 167.4L866.1 164.6L866.7 161.2L867.3 158.5L867.9 158.9L868.5 159.7L869.1 165.4L869.7 168.2L870.3 166.9L870.9 163.4L871.5 167.0L872.1 168.2L872.7 167.1L873.4 167.6L874.0 169.5L874.6 173.0L875.2 176.4L875.8 178.0L876.4 174.9L877.0 171.9L877.6 169.1L878.2 165.8L878.8 166.1L879.4 169.5L881.3 169.5L881.9 171.6L882.5 175.7L883.1 176.7L883.7 181.0L884.3 184.4L884.9 186.5L885.5 185.2L886.1 180.0L886.7 178.0L887.3 174.3L887.9 173.1L888.5 175.0L889.2 179.2L889.8 191.3L890.4 187.5L891.0 184.1L891.6 179.6L892.1 182.1L892.6 181.7L893.1 186.2L893.7 189.8L894.2 193.1L894.7 189.3L895.2 183.8L895.7 181.9L896.3 180.4L896.8 178.5L897.3 178.6L897.8 181.7L898.3 184.2L898.9 184.8L899.4 179.8L899.9 176.5L900.4 177.1L901.0 175.6L901.5 174.4L902.0 172.7L902.5 172.3L903.0 165.4L903.5 160.8L904.0 159.1L904.6 159.5L905.1 158.2L905.6 160.7L906.1 161.9L906.6 160.3L907.2 159.8L907.7 160.8L908.2 160.1L908.8 159.3L909.3 162.9L909.8 166.0L910.3 167.0L910.9 167.9L911.4 170.2L911.9 167.9L912.4 165.0L912.9 164.5L913.4 167.1L914.0 164.9L914.5 164.0L915.0 165.6L915.5 168.9L916.0 169.2L916.5 170.3L917.1 171.8L917.6 171.2L918.1 171.9L918.7 171.8L919.2 173.3L919.7 175.6L920.2 179.6L920.7 185.2L921.2 187.9L921.8 186.5L922.3 183.2L922.8 181.7L923.3 180.9L923.9 183.1L924.4 183.8L924.9 188.5L925.4 192.1L925.9 187.3L926.5 182.3L927.0 178.5L927.5 177.0L928.0 174.4L928.5 174.0L929.1 170.1L929.6 169.2L930.1 166.6L930.6 166.5L931.1 166.0L931.6 167.1L932.2 169.4L932.7 170.2L933.2 170.8L933.8 173.3L934.3 172.2L934.8 169.2L935.3 172.6L935.8 174.4L936.3 173.0L936.9 170.7L937.4 170.2L937.9 170.3L938.5 166.8L939.0 166.0L939.7 168.1L940.3 167.3L941.0 169.2L941.5 169.0L942.1 171.4L942.6 171.2L943.1 168.5L943.6 167.1L944.1 170.4L944.7 170.7L945.2 171.6L945.7 174.4L946.2 175.1L946.8 177.5L947.3 175.8L947.8 175.2L948.3 173.3L948.8 176.5L949.4 175.6L949.9 178.5L950.4 175.4L951.0 172.0L951.5 170.2L952.0 175.9L952.5 178.5" fill="none" stroke="#f0cb58" stroke-width="1.7" stroke-linejoin="round" clip-path="url(#c2)"/><path d="M102.9 100.2L105.2 106.9L108.1 114.4L109.7 121.6L111.3 139.7L112.6 149.8L114.2 152.0L115.3 155.5L116.0 153.5L117.0 157.0L119.8 164.5L124.3 180.3L131.1 193.8L137.9 201.7L140.0 203.0L143.8 208.8L143.8 102.5L144.2 102.6L144.8 103.8L145.2 113.8L145.8 113.3L146.2 115.0L146.9 118.8L147.5 121.0L148.1 120.9L148.8 124.1L149.4 125.3L150.0 127.5L150.6 128.2L151.2 131.7L151.9 132.3L152.5 135.6L153.1 136.5L153.8 140.0L154.4 143.1L155.0 148.8L155.6 151.2L156.2 137.5L156.9 135.6L157.5 141.2L158.1 134.1L158.8 127.5L159.2 127.9L159.6 126.2L160.0 121.9L160.4 120.0L161.0 133.8L161.4 132.2L161.9 132.5L162.5 141.2L163.1 141.0L163.8 140.0L164.4 152.5L165.0 159.4L165.6 157.4L166.2 152.5L166.9 150.9L167.5 148.8L168.1 146.5L168.8 145.0L169.4 145.9L170.0 143.8L170.6 151.2L171.2 144.2L171.9 140.0L172.3 139.9L172.8 137.5L173.2 131.2L173.8 126.2L174.4 127.0L175.0 130.0L175.6 133.8L176.2 140.0L176.9 142.5L177.5 146.2L178.1 151.0L178.8 153.8L179.4 157.7L180.0 163.8L180.6 167.3L181.3 170.9L181.9 173.8L182.5 170.2L183.1 167.5L183.8 146.2L184.4 138.9L185.0 131.2L185.5 128.0L186.0 127.5L186.6 123.8L187.2 123.0L187.7 127.4L188.1 133.8L188.8 143.8L189.2 138.1L189.8 131.2L190.2 125.4L190.6 120.0L191.1 120.0L191.5 121.2L191.9 132.1L192.2 142.5L192.5 162.5L193.1 163.6L193.8 164.4L194.4 166.2L195.0 177.5L195.4 179.4L195.0 187.7L195.5 186.2L196.0 183.5L196.5 180.4L197.0 181.0L197.4 183.4L197.9 184.6L198.5 181.5L199.2 220.0L199.6 259.6L200.0 268.0L200.6 220.0L201.1 206.5L201.7 192.9L202.2 207.7L202.7 220.0L203.2 228.0L203.8 234.6L204.3 230.8L204.8 228.3L205.3 262.0L206.0 276.2L206.6 286.1L207.3 300.0L206.8 290.0L209.3 340.0L209.8 430.0L210.9 505.0L211.6 430.0L211.8 352.0L212.3 370.7L212.8 390.0L213.5 370.0L214.0 430.0L214.5 488.8L216.0 430.0L216.8 382.0L217.3 371.2L217.9 357.6L218.5 347.0L218.9 338.5L219.4 330.0L221.0 290.0L221.5 262.5L221.9 220.3L222.2 214.0L222.6 214.9L223.0 218.8L223.5 226.6L223.0 251.6L223.5 245.4L224.1 238.9L224.6 231.2L225.0 243.2L225.4 254.7L225.8 248.1L226.2 239.0L226.6 247.0L226.9 256.2L227.3 252.2L227.7 246.9L228.5 290.0L228.9 276.6L229.3 262.5L230.0 273.4L230.5 264.8L231.1 255.6L231.6 246.9L232.0 255.8L232.4 262.5L232.8 269.4L233.2 273.4L233.6 266.3L234.0 259.4L234.5 262.0L235.0 262.1L235.5 265.6L235.9 263.1L236.3 259.4L236.8 255.2L237.4 251.6L237.9 245.3L238.3 253.4L238.7 259.4L239.2 256.1L239.7 253.8L240.2 251.6L240.6 255.2L241.0 257.8L241.5 253.7L242.1 252.5L242.6 250.0L243.1 245.3L243.6 241.4L244.1 239.0L244.6 232.4L245.2 229.5L245.7 223.4L246.2 220.9L246.7 220.0L247.2 219.5L247.8 214.7L248.2 211.9L248.8 206.2L249.4 196.8L250.0 190.0L250.6 193.0L251.2 196.2L251.9 191.0L252.5 186.6L253.1 180.0L253.8 175.1L254.4 168.1L255.0 180.0L254.8 215.0L255.2 202.2L255.6 187.0L256.2 189.9L256.8 194.3L257.4 189.2L258.0 184.6L258.6 182.6L259.3 181.5L259.9 184.9L260.5 185.8L261.1 186.1L261.7 183.4L262.3 185.9L262.9 190.7L263.5 194.9L264.1 200.4L264.7 206.5L265.3 203.6L266.0 202.4L266.6 200.4L267.2 198.7L267.8 195.6L268.4 194.3L269.0 190.6L269.6 189.8L270.2 187.5L270.8 185.8L271.4 186.8L272.0 188.8L272.6 188.2L273.2 189.2L273.9 189.1L274.5 189.5L275.1 188.2L275.7 186.8L276.3 184.6L276.9 180.0L277.5 174.0L278.1 170.8L278.7 169.2L279.3 165.9L279.9 163.2L280.5 160.1L281.1 156.2L281.7 154.6L282.4 153.4L283.0 151.3L283.6 151.3L284.2 149.3L284.8 146.5L285.4 142.7L286.0 140.2L286.6 139.2L287.2 135.2L287.7 132.0L288.2 129.5L288.8 127.0L289.3 140.4L289.7 180.0L290.3 191.9L290.9 145.3L291.5 159.1L292.1 175.7L292.7 168.0L293.3 163.5L293.9 164.2L294.5 167.1L295.1 162.2L295.7 159.8L296.4 161.2L297.0 163.5L297.6 177.3L298.2 176.6L298.8 180.1L299.4 179.7L300.0 184.3L300.6 188.2L301.2 219.8L301.8 205.9L302.4 194.3L303.0 191.5L303.6 189.7L304.2 188.2L304.8 187.0L305.5 185.4L306.1 185.8L306.7 184.9L307.3 183.3L307.9 179.7L308.5 175.0L309.1 170.4L309.7 165.9L310.3 166.6L310.9 168.7L311.5 172.0L312.1 171.7L312.7 171.7L313.4 173.8L314.0 171.9L314.6 173.2L314.6 189.5L315.2 175.0L315.8 163.5L316.4 160.9L317.0 155.5L317.6 151.3L318.2 146.5L318.8 144.2L319.4 140.4L320.0 133.6L320.7 130.0L321.3 124.6L321.9 128.6L322.5 129.5L323.1 136.1L323.7 140.4L324.3 156.2L324.9 167.8L325.5 178.1L326.1 165.2L326.7 153.8L327.3 151.7L328.0 149.5L328.6 148.9L329.2 154.0L329.8 157.4L330.4 157.9L331.0 159.1L331.6 158.6L332.0 163.8L332.4 170.0L333.0 172.8L333.6 177.3L334.2 180.1L334.9 180.9L335.5 193.1L336.1 184.3L336.7 172.4L337.3 180.9L337.9 184.5L338.5 185.8L339.1 191.0L339.7 194.3L340.3 204.5L340.9 212.6L341.2 216.4L341.6 218.6L342.2 241.0L342.8 218.6L343.4 198.0L344.0 203.2L344.6 210.1L345.2 216.2L345.8 217.5L346.4 218.6L347.0 212.1L347.6 206.5L348.2 196.1L348.9 187.1L349.5 179.7L350.1 180.2L350.7 182.2L351.3 187.5L351.9 194.3L352.5 196.8L353.1 191.9L353.7 185.8L354.3 189.7L354.9 190.7L355.5 189.9L356.1 189.5L356.8 192.7L357.4 193.1L358.0 195.9L358.6 195.5L359.2 200.0L359.8 201.6L360.4 205.4L361.0 210.1L361.6 210.5L362.2 212.6L362.8 214.7L363.4 218.6L363.8 218.3L364.1 219.9L364.7 230.5L365.3 243.0L366.0 241.5L366.6 239.3L367.2 259.3L367.6 273.4L368.3 256.4L369.0 236.9L369.6 242.8L370.2 246.6L370.8 252.6L371.4 258.8L372.0 266.1L372.6 260.0L373.2 224.1L373.8 239.3L374.5 245.9L375.1 251.5L375.7 245.8L376.3 238.1L376.9 240.4L377.5 245.4L378.1 267.3L378.7 264.2L379.3 260.0L379.8 261.6L380.3 260.6L380.9 277.6L381.4 292.7L381.8 302.2L382.2 310.0L382.6 374.4L383.2 320.0L383.7 290.0L384.4 327.0L384.9 300.0L385.5 322.0L386.0 304.1L386.6 288.1L387.2 318.0L387.7 311.0L388.3 305.2L388.9 299.5L389.5 274.3L390.1 266.4L390.6 260.6L391.1 265.0L391.7 267.5L392.3 278.9L392.9 280.1L393.5 282.3L394.0 295.0L394.6 297.7L395.2 298.4L395.8 313.3L396.4 306.8L396.9 297.2L397.4 300.3L398.0 304.1L398.6 296.9L399.2 290.4L399.8 295.2L400.3 297.2L400.9 291.5L401.5 294.0L402.1 295.0L402.6 306.4L403.2 300.7L403.8 297.2L404.4 288.6L404.9 282.3L405.5 279.5L406.1 278.9L406.6 274.5L407.2 267.5L407.8 265.0L408.4 260.6L408.5 246.6L409.1 260.0L409.7 255.8L410.3 253.9L410.8 258.3L411.2 260.6L411.8 266.7L412.4 269.7L412.9 274.3L413.5 277.8L414.1 295.1L414.7 313.3L415.2 302.0L415.8 290.4L416.4 285.2L416.9 282.3L417.5 286.5L418.1 293.8L418.6 291.3L419.2 285.8L419.8 284.0L420.4 281.3L421.0 278.9L421.6 276.3L422.1 270.9L422.6 265.5L423.2 260.6L423.8 251.1L424.3 239.3L425.0 211.2L425.6 220.0L426.1 239.3L426.7 234.3L427.3 227.2L427.9 245.4L428.5 235.4L429.2 227.2L429.7 220.2L430.1 210.1L430.5 201.5L431.1 201.6L431.7 203.0L432.1 206.7L432.5 212.0L433.1 209.0L433.6 205.4L434.2 205.0L434.8 206.2L435.2 220.0L435.6 235.8L436.0 228.6L436.4 222.0L436.8 215.5L437.1 217.6L437.5 222.0L437.9 228.8L438.3 233.0L438.8 228.0L439.2 224.0L439.9 228.0L440.3 223.9L440.7 220.0L441.4 210.0L441.8 212.3L442.2 214.0L442.6 220.7L443.0 224.9L443.3 214.0L444.0 214.9L444.6 216.3L445.1 217.9L445.6 216.8L446.1 217.1L446.6 216.4L447.2 215.6L447.7 214.8L448.3 211.3L448.9 210.7L449.4 207.9L450.0 207.0L450.5 206.9L451.1 211.0L451.6 211.6L452.1 211.1L452.7 212.6L453.2 213.9L453.8 213.8L454.2 206.4L454.7 198.8L455.1 196.9L455.6 196.2L456.0 192.3L456.4 189.3L456.9 186.2L457.4 179.7L457.8 172.8L458.4 180.1L459.0 191.1L459.6 187.8L460.3 182.6L460.9 184.3L461.5 188.6L462.1 187.6L462.7 186.2L463.3 187.8L463.9 191.1L464.3 198.9L464.7 208.1L465.3 198.1L465.9 199.8L466.4 199.7L466.9 200.7L467.5 201.2L468.1 202.7L468.8 202.5L469.4 199.8L470.0 194.4L470.6 195.9L471.3 198.1L471.9 199.4L472.5 198.4L473.1 197.3L473.8 196.2L474.4 196.0L475.0 194.4L475.6 193.8L476.2 194.5L476.9 195.0L477.5 185.0L478.0 183.7L478.5 182.6L479.1 185.8L479.7 186.2L480.3 186.0L480.9 185.8L481.5 183.8L482.0 185.3L482.6 183.1L483.1 184.1L483.6 184.0L484.1 183.6L484.6 180.3L485.2 176.3L485.8 169.0L486.4 165.1L486.9 162.1L487.3 161.5L487.8 175.6L488.2 190.0L488.7 181.1L489.2 175.0L489.7 173.5L490.2 172.3L490.8 173.6L491.3 172.4L491.9 172.7L492.5 171.2L493.1 173.7L493.7 173.6L494.3 168.5L494.9 166.2L495.5 161.5L496.1 164.4L496.7 166.3L497.3 172.9L498.0 183.0L498.6 189.5L499.0 183.2L499.4 174.0L499.9 172.2L500.5 173.6L501.0 171.2L501.6 169.2L502.2 167.9L502.8 166.3L503.4 164.6L504.0 160.9L504.6 156.6L505.3 153.5L505.9 152.3L506.5 150.5L507.1 148.9L507.7 146.8L508.3 145.7L508.9 143.5L509.5 143.2L510.1 145.7L510.7 149.3L511.3 152.5L511.9 154.2L512.5 154.3L513.2 157.6L513.8 159.0L514.4 168.0L515.0 177.3L515.6 163.6L516.2 153.0L516.8 156.1L517.4 160.3L518.0 156.6L518.6 152.2L519.2 148.1L519.8 149.1L520.5 154.5L521.1 155.4L521.7 153.9L522.3 150.5L522.9 166.0L523.5 178.5L524.1 172.8L524.7 168.8L525.3 165.1L525.9 160.8L526.5 160.3L527.1 156.6L527.8 152.8L528.4 150.5L529.0 150.5L529.6 152.7L530.2 154.2L530.8 151.9L531.4 146.9L532.0 149.5L532.6 149.3L533.2 151.7L533.8 148.2L534.4 146.9L535.0 145.2L535.6 140.8L536.3 132.9L536.9 134.6L537.5 135.9L538.1 140.8L538.7 145.7L539.3 149.3L539.9 151.6L540.5 156.6L541.1 159.4L541.7 165.1L542.4 171.2L543.0 176.1L544.9 219.8L545.5 203.8L546.1 188.2L546.7 174.9L548.5 174.9L549.1 188.2L549.7 189.9L550.3 194.3L550.9 207.7L551.2 202.4L551.6 194.3L552.2 205.7L552.8 216.2L553.4 224.7L554.0 220.8L554.6 215.0L555.2 202.1L555.8 191.9L556.4 190.0L557.0 185.8L557.6 187.5L558.2 191.9L558.8 196.3L559.5 198.2L560.1 201.6L560.7 206.6L561.3 212.6L561.9 210.9L562.5 208.9L563.1 215.7L563.7 219.8L564.3 233.2L564.9 227.0L565.5 222.3L566.1 225.4L566.7 230.8L567.4 226.0L568.0 221.1L568.6 216.2L569.2 206.0L569.8 197.4L570.4 200.7L571.0 206.5L571.6 217.6L572.2 230.8L572.8 224.5L573.4 221.1L574.0 216.5L574.7 213.8L575.3 211.3L575.9 210.1L576.5 230.8L577.1 225.3L577.7 221.1L578.3 221.3L578.9 219.8L579.5 222.0L580.1 225.5L580.7 228.4L581.3 223.7L581.9 221.1L582.5 221.0L583.2 220.4L583.8 222.3L584.4 220.9L585.0 221.1L585.5 235.0L586.0 246.2L586.4 260.5L586.8 269.4L587.3 276.9L587.9 302.4L588.2 291.7L588.6 280.6L589.1 318.8L589.5 323.3L590.0 329.8L591.0 278.7L591.5 285.9L591.9 293.3L592.6 286.9L593.3 277.8L594.0 286.1L594.6 297.0L595.2 300.5L595.8 301.6L596.4 304.3L596.8 306.1L597.3 307.9L597.8 299.9L598.3 289.7L598.8 291.2L599.2 293.3L599.9 279.7L600.6 266.0L601.2 276.6L601.9 286.0L602.3 282.1L602.8 275.1L603.4 273.4L604.0 273.8L604.6 271.5L605.0 266.7L605.5 260.5L606.0 250.9L606.5 240.5L607.0 236.2L607.6 231.9L608.1 228.4L608.7 223.3L609.3 221.1L609.9 217.5L610.5 216.2L611.1 206.9L611.7 200.4L612.2 188.6L612.8 187.8L613.4 184.6L614.0 183.8L614.6 187.6L615.2 192.2L615.8 198.4L616.4 194.6L617.0 188.6L617.6 176.4L618.2 161.9L618.9 165.5L619.5 168.0L620.1 171.6L620.7 176.5L621.3 181.7L621.9 188.6L622.5 181.3L623.1 185.5L623.7 191.1L624.3 182.4L624.9 174.0L625.5 180.2L626.1 188.6L626.7 187.6L627.4 186.2L628.0 186.2L628.6 189.3L629.2 191.0L629.8 191.1L630.2 195.7L630.6 200.0L631.0 204.6L631.4 210.9L631.9 210.8L632.5 207.2L633.0 206.2L633.5 208.9L634.0 210.9L634.5 215.6L634.9 218.4L635.3 221.9L635.9 208.8L636.5 195.9L636.9 200.0L637.5 203.9L638.0 206.8L638.6 211.7L639.2 215.6L639.6 221.1L640.0 229.7L640.5 225.8L641.1 222.1L641.6 220.3L642.1 225.2L642.6 229.2L643.1 235.9L643.6 230.2L644.2 226.9L644.7 223.4L645.2 224.1L645.7 226.8L646.2 228.1L646.6 214.1L647.0 200.0L647.5 200.7L648.1 200.2L648.6 199.6L649.2 198.3L649.9 196.7L650.5 193.5L651.1 191.5L651.7 189.7L652.3 188.6L652.9 192.2L653.5 191.5L654.1 194.7L654.6 204.0L655.1 212.2L655.6 220.3L655.9 287.5L658.0 246.9L658.5 240.2L659.0 237.5L659.5 231.2L660.0 229.9L660.6 226.4L661.1 223.4L661.6 221.5L662.2 219.2L662.7 215.6L663.2 202.2L663.8 191.1L664.4 192.8L665.1 194.3L665.7 195.9L666.3 195.0L666.9 192.9L667.5 189.9L668.1 193.3L668.7 195.0L669.3 197.1L669.9 199.9L670.5 200.7L671.1 202.3L671.7 203.2L672.3 201.1L673.0 199.3L673.6 198.4L674.2 198.4L674.6 199.4L675.0 201.3L675.6 190.3L676.2 181.9L676.8 182.8L677.4 181.7L678.0 181.3L678.6 181.1L679.3 180.1L679.9 182.6L680.5 184.3L681.1 191.6L681.7 197.7L682.3 194.0L682.9 190.4L683.5 191.9L684.1 196.5L684.7 196.2L685.3 194.8L685.9 192.8L686.5 190.8L687.2 188.8L687.8 186.7L688.4 184.2L689.0 180.7L689.6 175.0L690.2 172.0L690.8 170.0L691.4 165.6L692.0 162.2L692.6 160.8L693.2 160.8L693.9 163.1L694.5 163.2L695.1 159.8L695.7 159.1L696.3 155.9L696.9 155.4L697.5 151.8L698.1 149.8L698.7 146.6L699.3 144.1L699.9 141.3L700.5 145.5L701.1 148.6L701.8 155.6L702.4 160.8L703.0 156.3L703.6 151.5L704.2 146.2L704.8 142.8L705.4 141.0L706.0 140.1L706.6 144.8L707.2 151.1L707.8 147.6L708.4 142.6L709.0 144.8L709.7 148.5L710.3 151.1L710.9 147.9L711.5 146.4L712.1 146.2L712.7 145.9L713.3 147.6L713.9 147.4L714.5 150.8L715.1 153.6L715.7 155.9L716.3 155.6L717.0 156.8L717.6 157.1L718.2 163.4L718.8 170.0L719.4 180.7L720.0 185.4L720.6 190.4L721.2 184.9L721.8 181.9L722.4 181.3L723.0 178.2L723.6 198.9L724.2 192.5L724.8 188.0L725.4 191.5L726.1 193.4L726.7 194.0L727.3 197.4L727.9 203.8L728.5 193.9L729.1 184.3L729.7 180.7L730.3 175.0L730.9 173.9L731.5 169.7L732.1 167.3L732.8 164.4L733.4 163.4L734.0 162.9L734.6 163.6L735.2 168.1L735.8 169.7L736.4 173.0L737.0 178.2L737.6 175.5L738.2 172.2L738.8 160.8L739.4 158.1L740.0 157.8L740.7 157.7L741.3 154.7L741.9 154.3L742.5 157.3L743.1 157.1L743.7 156.5L744.3 155.9L744.9 159.3L745.5 160.8L746.1 161.4L746.7 164.4L746.6 172.1L747.1 175.4L747.6 176.2L748.0 179.0L748.5 181.4L749.0 183.9L749.7 178.9L750.4 177.0L751.0 176.4L751.5 179.0L752.0 182.1L752.5 185.3L752.9 188.9L753.2 192.9L753.9 189.4L754.4 199.1L754.9 210.0L755.5 203.8L756.0 199.9L756.7 192.8L757.4 186.7L757.9 186.5L758.4 187.4L758.8 196.4L759.1 203.3L759.6 193.4L760.1 186.7L760.8 188.0L761.1 195.8L761.5 202.0L762.2 197.5L762.9 190.8L763.2 187.9L763.6 187.4L764.1 186.3L764.6 182.5L765.2 184.6L765.7 185.3L766.4 199.2L766.9 198.0L767.4 194.3L768.0 194.7L768.5 196.4L769.2 197.4L769.9 199.2L770.2 204.3L770.6 210.0L770.5 220.4L771.1 232.6L771.8 232.3L772.4 228.9L773.0 224.9L773.6 220.4L774.2 221.8L774.8 224.0L775.4 260.0L775.6 278.8L776.0 284.8L776.5 291.2L777.0 279.3L777.5 268.8L778.1 285.0L778.8 274.2L779.4 266.2L780.0 282.5L780.6 262.5L781.0 253.5L781.5 247.1L782.1 247.8L782.7 245.6L783.3 245.9L783.9 245.5L784.5 242.3L785.0 260.0L785.6 266.2L786.2 271.1L786.9 277.5L787.5 279.9L788.1 283.8L788.8 253.2L789.4 275.0L790.0 280.0L790.6 285.0L791.2 275.3L791.9 267.5L792.5 272.1L793.1 277.5L793.8 277.7L794.4 275.0L795.0 270.0L795.6 262.5L796.2 261.3L796.7 258.1L797.5 310.0L798.1 305.4L798.8 300.0L799.4 300.7L800.0 298.8L800.6 294.5L801.2 287.5L801.9 283.9L802.5 280.0L803.1 287.0L803.8 292.5L804.4 289.2L805.0 288.8L805.6 282.6L806.2 275.0L806.9 260.0L807.2 249.1L807.6 238.6L808.2 237.4L808.8 235.1L809.4 232.6L810.0 238.6L810.7 245.9L811.3 235.4L811.9 227.7L812.5 233.3L813.1 236.2L813.7 241.9L814.3 249.9L814.9 256.9L815.4 220.7L815.8 213.8L816.3 212.3L816.7 211.3L817.2 211.0L817.9 210.7L818.5 208.9L819.0 208.0L819.6 204.0L820.1 203.9L820.6 205.4L821.0 215.8L821.5 212.5L822.0 208.2L823.4 208.2L823.8 218.6L824.4 217.3L825.1 217.2L825.8 221.4L826.1 218.1L826.5 214.4L827.0 218.3L827.6 222.8L828.3 224.5L829.0 228.3L829.6 215.8L830.3 204.0L830.8 202.2L831.4 202.6L831.9 204.1L832.4 207.5L832.8 213.0L833.3 211.9L833.8 208.2L834.4 208.7L835.0 208.2L835.6 209.6L836.2 211.3L836.9 210.3L837.5 214.6L838.0 215.8L838.3 223.5L838.8 223.8L839.2 223.3L839.7 224.9L840.2 225.0L840.8 227.0L841.1 226.7L841.5 229.0L841.9 224.7L842.2 221.4L842.7 220.4L843.2 222.1L843.9 220.9L844.6 221.4L845.3 215.1L846.7 215.1L847.4 205.4L847.2 198.6L847.8 195.8L848.4 194.8L849.0 192.6L849.6 192.9L850.2 191.5L850.9 189.5L851.5 188.9L852.1 185.6L852.7 182.8L853.3 180.5L853.9 178.0L854.5 177.9L855.1 178.1L855.7 177.5L856.3 179.2L856.9 177.7L857.5 179.1L858.2 175.7L858.8 176.1L859.4 179.5L860.0 182.8L860.6 186.9L861.2 190.1L861.8 188.2L862.4 184.0L863.0 179.4L863.6 176.7L864.2 173.6L864.8 171.9L865.5 167.4L866.1 164.6L866.7 161.2L867.3 158.5L867.9 158.9L868.5 159.7L869.1 165.4L869.7 168.2L870.3 166.9L870.9 163.4L871.5 167.0L872.1 168.2L872.7 167.1L873.4 167.6L874.0 169.5L874.6 173.0L875.2 176.4L875.8 178.0L876.4 174.9L877.0 171.9L877.6 169.1L878.2 165.8L878.8 166.1L879.4 169.5L881.3 169.5L881.9 171.6L882.5 175.7L883.1 176.7L883.7 181.0L884.3 184.4L884.9 186.5L885.5 185.2L886.1 180.0L886.7 178.0L887.3 174.3L887.9 173.1L888.5 175.0L889.2 179.2L889.8 191.3L890.4 187.5L891.0 184.1L891.6 179.6L892.1 182.1L892.6 181.7L893.1 186.2L893.7 189.8L894.2 193.1L894.7 189.3L895.2 183.8L895.7 181.9L896.3 180.4L896.8 178.5L897.3 178.6L897.8 181.7L898.3 184.2L898.9 184.8L899.4 179.8L899.9 176.5L900.4 177.1L901.0 175.6L901.5 174.4L902.0 172.7L902.5 172.3L903.0 165.4L903.5 160.8L904.0 159.1L904.6 159.5L905.1 158.2L905.6 160.7L906.1 161.9L906.6 160.3L907.2 159.8L907.7 160.8L908.2 160.1L908.8 159.3L909.3 162.9L909.8 166.0L910.3 167.0L910.9 167.9L911.4 170.2L911.9 167.9L912.4 165.0L912.9 164.5L913.4 167.1L914.0 164.9L914.5 164.0L915.0 165.6L915.5 168.9L916.0 169.2L916.5 170.3L917.1 171.8L917.6 171.2L918.1 171.9L918.7 171.8L919.2 173.3L919.7 175.6L920.2 179.6L920.7 185.2L921.2 187.9L921.8 186.5L922.3 183.2L922.8 181.7L923.3 180.9L923.9 183.1L924.4 183.8L924.9 188.5L925.4 192.1L925.9 187.3L926.5 182.3L927.0 178.5L927.5 177.0L928.0 174.4L928.5 174.0L929.1 170.1L929.6 169.2L930.1 166.6L930.6 166.5L931.1 166.0L931.6 167.1L932.2 169.4L932.7 170.2L933.2 170.8L933.8 173.3L934.3 172.2L934.8 169.2L935.3 172.6L935.8 174.4L936.3 173.0L936.9 170.7L937.4 170.2L937.9 170.3L938.5 166.8L939.0 166.0L939.7 168.1L940.3 167.3L941.0 169.2L941.5 169.0L942.1 171.4L942.6 171.2L943.1 168.5L943.6 167.1L944.1 170.4L944.7 170.7L945.2 171.6L945.7 174.4L946.2 175.1L946.8 177.5L947.3 175.8L947.8 175.2L948.3 173.3L948.8 176.5L949.4 175.6L949.9 178.5L950.4 175.4L951.0 172.0L951.5 170.2L952.0 175.9L952.5 178.5" fill="none" stroke="#6cc05c" stroke-width="1.7" stroke-linejoin="round" clip-path="url(#c3)"/><path d="M102.9 100.2L105.2 106.9L108.1 114.4L109.7 121.6L111.3 139.7L112.6 149.8L114.2 152.0L115.3 155.5L116.0 153.5L117.0 157.0L119.8 164.5L124.3 180.3L131.1 193.8L137.9 201.7L140.0 203.0L143.8 208.8L143.8 102.5L144.2 102.6L144.8 103.8L145.2 113.8L145.8 113.3L146.2 115.0L146.9 118.8L147.5 121.0L148.1 120.9L148.8 124.1L149.4 125.3L150.0 127.5L150.6 128.2L151.2 131.7L151.9 132.3L152.5 135.6L153.1 136.5L153.8 140.0L154.4 143.1L155.0 148.8L155.6 151.2L156.2 137.5L156.9 135.6L157.5 141.2L158.1 134.1L158.8 127.5L159.2 127.9L159.6 126.2L160.0 121.9L160.4 120.0L161.0 133.8L161.4 132.2L161.9 132.5L162.5 141.2L163.1 141.0L163.8 140.0L164.4 152.5L165.0 159.4L165.6 157.4L166.2 152.5L166.9 150.9L167.5 148.8L168.1 146.5L168.8 145.0L169.4 145.9L170.0 143.8L170.6 151.2L171.2 144.2L171.9 140.0L172.3 139.9L172.8 137.5L173.2 131.2L173.8 126.2L174.4 127.0L175.0 130.0L175.6 133.8L176.2 140.0L176.9 142.5L177.5 146.2L178.1 151.0L178.8 153.8L179.4 157.7L180.0 163.8L180.6 167.3L181.3 170.9L181.9 173.8L182.5 170.2L183.1 167.5L183.8 146.2L184.4 138.9L185.0 131.2L185.5 128.0L186.0 127.5L186.6 123.8L187.2 123.0L187.7 127.4L188.1 133.8L188.8 143.8L189.2 138.1L189.8 131.2L190.2 125.4L190.6 120.0L191.1 120.0L191.5 121.2L191.9 132.1L192.2 142.5L192.5 162.5L193.1 163.6L193.8 164.4L194.4 166.2L195.0 177.5L195.4 179.4L195.0 187.7L195.5 186.2L196.0 183.5L196.5 180.4L197.0 181.0L197.4 183.4L197.9 184.6L198.5 181.5L199.2 220.0L199.6 259.6L200.0 268.0L200.6 220.0L201.1 206.5L201.7 192.9L202.2 207.7L202.7 220.0L203.2 228.0L203.8 234.6L204.3 230.8L204.8 228.3L205.3 262.0L206.0 276.2L206.6 286.1L207.3 300.0L206.8 290.0L209.3 340.0L209.8 430.0L210.9 505.0L211.6 430.0L211.8 352.0L212.3 370.7L212.8 390.0L213.5 370.0L214.0 430.0L214.5 488.8L216.0 430.0L216.8 382.0L217.3 371.2L217.9 357.6L218.5 347.0L218.9 338.5L219.4 330.0L221.0 290.0L221.5 262.5L221.9 220.3L222.2 214.0L222.6 214.9L223.0 218.8L223.5 226.6L223.0 251.6L223.5 245.4L224.1 238.9L224.6 231.2L225.0 243.2L225.4 254.7L225.8 248.1L226.2 239.0L226.6 247.0L226.9 256.2L227.3 252.2L227.7 246.9L228.5 290.0L228.9 276.6L229.3 262.5L230.0 273.4L230.5 264.8L231.1 255.6L231.6 246.9L232.0 255.8L232.4 262.5L232.8 269.4L233.2 273.4L233.6 266.3L234.0 259.4L234.5 262.0L235.0 262.1L235.5 265.6L235.9 263.1L236.3 259.4L236.8 255.2L237.4 251.6L237.9 245.3L238.3 253.4L238.7 259.4L239.2 256.1L239.7 253.8L240.2 251.6L240.6 255.2L241.0 257.8L241.5 253.7L242.1 252.5L242.6 250.0L243.1 245.3L243.6 241.4L244.1 239.0L244.6 232.4L245.2 229.5L245.7 223.4L246.2 220.9L246.7 220.0L247.2 219.5L247.8 214.7L248.2 211.9L248.8 206.2L249.4 196.8L250.0 190.0L250.6 193.0L251.2 196.2L251.9 191.0L252.5 186.6L253.1 180.0L253.8 175.1L254.4 168.1L255.0 180.0L254.8 215.0L255.2 202.2L255.6 187.0L256.2 189.9L256.8 194.3L257.4 189.2L258.0 184.6L258.6 182.6L259.3 181.5L259.9 184.9L260.5 185.8L261.1 186.1L261.7 183.4L262.3 185.9L262.9 190.7L263.5 194.9L264.1 200.4L264.7 206.5L265.3 203.6L266.0 202.4L266.6 200.4L267.2 198.7L267.8 195.6L268.4 194.3L269.0 190.6L269.6 189.8L270.2 187.5L270.8 185.8L271.4 186.8L272.0 188.8L272.6 188.2L273.2 189.2L273.9 189.1L274.5 189.5L275.1 188.2L275.7 186.8L276.3 184.6L276.9 180.0L277.5 174.0L278.1 170.8L278.7 169.2L279.3 165.9L279.9 163.2L280.5 160.1L281.1 156.2L281.7 154.6L282.4 153.4L283.0 151.3L283.6 151.3L284.2 149.3L284.8 146.5L285.4 142.7L286.0 140.2L286.6 139.2L287.2 135.2L287.7 132.0L288.2 129.5L288.8 127.0L289.3 140.4L289.7 180.0L290.3 191.9L290.9 145.3L291.5 159.1L292.1 175.7L292.7 168.0L293.3 163.5L293.9 164.2L294.5 167.1L295.1 162.2L295.7 159.8L296.4 161.2L297.0 163.5L297.6 177.3L298.2 176.6L298.8 180.1L299.4 179.7L300.0 184.3L300.6 188.2L301.2 219.8L301.8 205.9L302.4 194.3L303.0 191.5L303.6 189.7L304.2 188.2L304.8 187.0L305.5 185.4L306.1 185.8L306.7 184.9L307.3 183.3L307.9 179.7L308.5 175.0L309.1 170.4L309.7 165.9L310.3 166.6L310.9 168.7L311.5 172.0L312.1 171.7L312.7 171.7L313.4 173.8L314.0 171.9L314.6 173.2L314.6 189.5L315.2 175.0L315.8 163.5L316.4 160.9L317.0 155.5L317.6 151.3L318.2 146.5L318.8 144.2L319.4 140.4L320.0 133.6L320.7 130.0L321.3 124.6L321.9 128.6L322.5 129.5L323.1 136.1L323.7 140.4L324.3 156.2L324.9 167.8L325.5 178.1L326.1 165.2L326.7 153.8L327.3 151.7L328.0 149.5L328.6 148.9L329.2 154.0L329.8 157.4L330.4 157.9L331.0 159.1L331.6 158.6L332.0 163.8L332.4 170.0L333.0 172.8L333.6 177.3L334.2 180.1L334.9 180.9L335.5 193.1L336.1 184.3L336.7 172.4L337.3 180.9L337.9 184.5L338.5 185.8L339.1 191.0L339.7 194.3L340.3 204.5L340.9 212.6L341.2 216.4L341.6 218.6L342.2 241.0L342.8 218.6L343.4 198.0L344.0 203.2L344.6 210.1L345.2 216.2L345.8 217.5L346.4 218.6L347.0 212.1L347.6 206.5L348.2 196.1L348.9 187.1L349.5 179.7L350.1 180.2L350.7 182.2L351.3 187.5L351.9 194.3L352.5 196.8L353.1 191.9L353.7 185.8L354.3 189.7L354.9 190.7L355.5 189.9L356.1 189.5L356.8 192.7L357.4 193.1L358.0 195.9L358.6 195.5L359.2 200.0L359.8 201.6L360.4 205.4L361.0 210.1L361.6 210.5L362.2 212.6L362.8 214.7L363.4 218.6L363.8 218.3L364.1 219.9L364.7 230.5L365.3 243.0L366.0 241.5L366.6 239.3L367.2 259.3L367.6 273.4L368.3 256.4L369.0 236.9L369.6 242.8L370.2 246.6L370.8 252.6L371.4 258.8L372.0 266.1L372.6 260.0L373.2 224.1L373.8 239.3L374.5 245.9L375.1 251.5L375.7 245.8L376.3 238.1L376.9 240.4L377.5 245.4L378.1 267.3L378.7 264.2L379.3 260.0L379.8 261.6L380.3 260.6L380.9 277.6L381.4 292.7L381.8 302.2L382.2 310.0L382.6 374.4L383.2 320.0L383.7 290.0L384.4 327.0L384.9 300.0L385.5 322.0L386.0 304.1L386.6 288.1L387.2 318.0L387.7 311.0L388.3 305.2L388.9 299.5L389.5 274.3L390.1 266.4L390.6 260.6L391.1 265.0L391.7 267.5L392.3 278.9L392.9 280.1L393.5 282.3L394.0 295.0L394.6 297.7L395.2 298.4L395.8 313.3L396.4 306.8L396.9 297.2L397.4 300.3L398.0 304.1L398.6 296.9L399.2 290.4L399.8 295.2L400.3 297.2L400.9 291.5L401.5 294.0L402.1 295.0L402.6 306.4L403.2 300.7L403.8 297.2L404.4 288.6L404.9 282.3L405.5 279.5L406.1 278.9L406.6 274.5L407.2 267.5L407.8 265.0L408.4 260.6L408.5 246.6L409.1 260.0L409.7 255.8L410.3 253.9L410.8 258.3L411.2 260.6L411.8 266.7L412.4 269.7L412.9 274.3L413.5 277.8L414.1 295.1L414.7 313.3L415.2 302.0L415.8 290.4L416.4 285.2L416.9 282.3L417.5 286.5L418.1 293.8L418.6 291.3L419.2 285.8L419.8 284.0L420.4 281.3L421.0 278.9L421.6 276.3L422.1 270.9L422.6 265.5L423.2 260.6L423.8 251.1L424.3 239.3L425.0 211.2L425.6 220.0L426.1 239.3L426.7 234.3L427.3 227.2L427.9 245.4L428.5 235.4L429.2 227.2L429.7 220.2L430.1 210.1L430.5 201.5L431.1 201.6L431.7 203.0L432.1 206.7L432.5 212.0L433.1 209.0L433.6 205.4L434.2 205.0L434.8 206.2L435.2 220.0L435.6 235.8L436.0 228.6L436.4 222.0L436.8 215.5L437.1 217.6L437.5 222.0L437.9 228.8L438.3 233.0L438.8 228.0L439.2 224.0L439.9 228.0L440.3 223.9L440.7 220.0L441.4 210.0L441.8 212.3L442.2 214.0L442.6 220.7L443.0 224.9L443.3 214.0L444.0 214.9L444.6 216.3L445.1 217.9L445.6 216.8L446.1 217.1L446.6 216.4L447.2 215.6L447.7 214.8L448.3 211.3L448.9 210.7L449.4 207.9L450.0 207.0L450.5 206.9L451.1 211.0L451.6 211.6L452.1 211.1L452.7 212.6L453.2 213.9L453.8 213.8L454.2 206.4L454.7 198.8L455.1 196.9L455.6 196.2L456.0 192.3L456.4 189.3L456.9 186.2L457.4 179.7L457.8 172.8L458.4 180.1L459.0 191.1L459.6 187.8L460.3 182.6L460.9 184.3L461.5 188.6L462.1 187.6L462.7 186.2L463.3 187.8L463.9 191.1L464.3 198.9L464.7 208.1L465.3 198.1L465.9 199.8L466.4 199.7L466.9 200.7L467.5 201.2L468.1 202.7L468.8 202.5L469.4 199.8L470.0 194.4L470.6 195.9L471.3 198.1L471.9 199.4L472.5 198.4L473.1 197.3L473.8 196.2L474.4 196.0L475.0 194.4L475.6 193.8L476.2 194.5L476.9 195.0L477.5 185.0L478.0 183.7L478.5 182.6L479.1 185.8L479.7 186.2L480.3 186.0L480.9 185.8L481.5 183.8L482.0 185.3L482.6 183.1L483.1 184.1L483.6 184.0L484.1 183.6L484.6 180.3L485.2 176.3L485.8 169.0L486.4 165.1L486.9 162.1L487.3 161.5L487.8 175.6L488.2 190.0L488.7 181.1L489.2 175.0L489.7 173.5L490.2 172.3L490.8 173.6L491.3 172.4L491.9 172.7L492.5 171.2L493.1 173.7L493.7 173.6L494.3 168.5L494.9 166.2L495.5 161.5L496.1 164.4L496.7 166.3L497.3 172.9L498.0 183.0L498.6 189.5L499.0 183.2L499.4 174.0L499.9 172.2L500.5 173.6L501.0 171.2L501.6 169.2L502.2 167.9L502.8 166.3L503.4 164.6L504.0 160.9L504.6 156.6L505.3 153.5L505.9 152.3L506.5 150.5L507.1 148.9L507.7 146.8L508.3 145.7L508.9 143.5L509.5 143.2L510.1 145.7L510.7 149.3L511.3 152.5L511.9 154.2L512.5 154.3L513.2 157.6L513.8 159.0L514.4 168.0L515.0 177.3L515.6 163.6L516.2 153.0L516.8 156.1L517.4 160.3L518.0 156.6L518.6 152.2L519.2 148.1L519.8 149.1L520.5 154.5L521.1 155.4L521.7 153.9L522.3 150.5L522.9 166.0L523.5 178.5L524.1 172.8L524.7 168.8L525.3 165.1L525.9 160.8L526.5 160.3L527.1 156.6L527.8 152.8L528.4 150.5L529.0 150.5L529.6 152.7L530.2 154.2L530.8 151.9L531.4 146.9L532.0 149.5L532.6 149.3L533.2 151.7L533.8 148.2L534.4 146.9L535.0 145.2L535.6 140.8L536.3 132.9L536.9 134.6L537.5 135.9L538.1 140.8L538.7 145.7L539.3 149.3L539.9 151.6L540.5 156.6L541.1 159.4L541.7 165.1L542.4 171.2L543.0 176.1L544.9 219.8L545.5 203.8L546.1 188.2L546.7 174.9L548.5 174.9L549.1 188.2L549.7 189.9L550.3 194.3L550.9 207.7L551.2 202.4L551.6 194.3L552.2 205.7L552.8 216.2L553.4 224.7L554.0 220.8L554.6 215.0L555.2 202.1L555.8 191.9L556.4 190.0L557.0 185.8L557.6 187.5L558.2 191.9L558.8 196.3L559.5 198.2L560.1 201.6L560.7 206.6L561.3 212.6L561.9 210.9L562.5 208.9L563.1 215.7L563.7 219.8L564.3 233.2L564.9 227.0L565.5 222.3L566.1 225.4L566.7 230.8L567.4 226.0L568.0 221.1L568.6 216.2L569.2 206.0L569.8 197.4L570.4 200.7L571.0 206.5L571.6 217.6L572.2 230.8L572.8 224.5L573.4 221.1L574.0 216.5L574.7 213.8L575.3 211.3L575.9 210.1L576.5 230.8L577.1 225.3L577.7 221.1L578.3 221.3L578.9 219.8L579.5 222.0L580.1 225.5L580.7 228.4L581.3 223.7L581.9 221.1L582.5 221.0L583.2 220.4L583.8 222.3L584.4 220.9L585.0 221.1L585.5 235.0L586.0 246.2L586.4 260.5L586.8 269.4L587.3 276.9L587.9 302.4L588.2 291.7L588.6 280.6L589.1 318.8L589.5 323.3L590.0 329.8L591.0 278.7L591.5 285.9L591.9 293.3L592.6 286.9L593.3 277.8L594.0 286.1L594.6 297.0L595.2 300.5L595.8 301.6L596.4 304.3L596.8 306.1L597.3 307.9L597.8 299.9L598.3 289.7L598.8 291.2L599.2 293.3L599.9 279.7L600.6 266.0L601.2 276.6L601.9 286.0L602.3 282.1L602.8 275.1L603.4 273.4L604.0 273.8L604.6 271.5L605.0 266.7L605.5 260.5L606.0 250.9L606.5 240.5L607.0 236.2L607.6 231.9L608.1 228.4L608.7 223.3L609.3 221.1L609.9 217.5L610.5 216.2L611.1 206.9L611.7 200.4L612.2 188.6L612.8 187.8L613.4 184.6L614.0 183.8L614.6 187.6L615.2 192.2L615.8 198.4L616.4 194.6L617.0 188.6L617.6 176.4L618.2 161.9L618.9 165.5L619.5 168.0L620.1 171.6L620.7 176.5L621.3 181.7L621.9 188.6L622.5 181.3L623.1 185.5L623.7 191.1L624.3 182.4L624.9 174.0L625.5 180.2L626.1 188.6L626.7 187.6L627.4 186.2L628.0 186.2L628.6 189.3L629.2 191.0L629.8 191.1L630.2 195.7L630.6 200.0L631.0 204.6L631.4 210.9L631.9 210.8L632.5 207.2L633.0 206.2L633.5 208.9L634.0 210.9L634.5 215.6L634.9 218.4L635.3 221.9L635.9 208.8L636.5 195.9L636.9 200.0L637.5 203.9L638.0 206.8L638.6 211.7L639.2 215.6L639.6 221.1L640.0 229.7L640.5 225.8L641.1 222.1L641.6 220.3L642.1 225.2L642.6 229.2L643.1 235.9L643.6 230.2L644.2 226.9L644.7 223.4L645.2 224.1L645.7 226.8L646.2 228.1L646.6 214.1L647.0 200.0L647.5 200.7L648.1 200.2L648.6 199.6L649.2 198.3L649.9 196.7L650.5 193.5L651.1 191.5L651.7 189.7L652.3 188.6L652.9 192.2L653.5 191.5L654.1 194.7L654.6 204.0L655.1 212.2L655.6 220.3L655.9 287.5L658.0 246.9L658.5 240.2L659.0 237.5L659.5 231.2L660.0 229.9L660.6 226.4L661.1 223.4L661.6 221.5L662.2 219.2L662.7 215.6L663.2 202.2L663.8 191.1L664.4 192.8L665.1 194.3L665.7 195.9L666.3 195.0L666.9 192.9L667.5 189.9L668.1 193.3L668.7 195.0L669.3 197.1L669.9 199.9L670.5 200.7L671.1 202.3L671.7 203.2L672.3 201.1L673.0 199.3L673.6 198.4L674.2 198.4L674.6 199.4L675.0 201.3L675.6 190.3L676.2 181.9L676.8 182.8L677.4 181.7L678.0 181.3L678.6 181.1L679.3 180.1L679.9 182.6L680.5 184.3L681.1 191.6L681.7 197.7L682.3 194.0L682.9 190.4L683.5 191.9L684.1 196.5L684.7 196.2L685.3 194.8L685.9 192.8L686.5 190.8L687.2 188.8L687.8 186.7L688.4 184.2L689.0 180.7L689.6 175.0L690.2 172.0L690.8 170.0L691.4 165.6L692.0 162.2L692.6 160.8L693.2 160.8L693.9 163.1L694.5 163.2L695.1 159.8L695.7 159.1L696.3 155.9L696.9 155.4L697.5 151.8L698.1 149.8L698.7 146.6L699.3 144.1L699.9 141.3L700.5 145.5L701.1 148.6L701.8 155.6L702.4 160.8L703.0 156.3L703.6 151.5L704.2 146.2L704.8 142.8L705.4 141.0L706.0 140.1L706.6 144.8L707.2 151.1L707.8 147.6L708.4 142.6L709.0 144.8L709.7 148.5L710.3 151.1L710.9 147.9L711.5 146.4L712.1 146.2L712.7 145.9L713.3 147.6L713.9 147.4L714.5 150.8L715.1 153.6L715.7 155.9L716.3 155.6L717.0 156.8L717.6 157.1L718.2 163.4L718.8 170.0L719.4 180.7L720.0 185.4L720.6 190.4L721.2 184.9L721.8 181.9L722.4 181.3L723.0 178.2L723.6 198.9L724.2 192.5L724.8 188.0L725.4 191.5L726.1 193.4L726.7 194.0L727.3 197.4L727.9 203.8L728.5 193.9L729.1 184.3L729.7 180.7L730.3 175.0L730.9 173.9L731.5 169.7L732.1 167.3L732.8 164.4L733.4 163.4L734.0 162.9L734.6 163.6L735.2 168.1L735.8 169.7L736.4 173.0L737.0 178.2L737.6 175.5L738.2 172.2L738.8 160.8L739.4 158.1L740.0 157.8L740.7 157.7L741.3 154.7L741.9 154.3L742.5 157.3L743.1 157.1L743.7 156.5L744.3 155.9L744.9 159.3L745.5 160.8L746.1 161.4L746.7 164.4L746.6 172.1L747.1 175.4L747.6 176.2L748.0 179.0L748.5 181.4L749.0 183.9L749.7 178.9L750.4 177.0L751.0 176.4L751.5 179.0L752.0 182.1L752.5 185.3L752.9 188.9L753.2 192.9L753.9 189.4L754.4 199.1L754.9 210.0L755.5 203.8L756.0 199.9L756.7 192.8L757.4 186.7L757.9 186.5L758.4 187.4L758.8 196.4L759.1 203.3L759.6 193.4L760.1 186.7L760.8 188.0L761.1 195.8L761.5 202.0L762.2 197.5L762.9 190.8L763.2 187.9L763.6 187.4L764.1 186.3L764.6 182.5L765.2 184.6L765.7 185.3L766.4 199.2L766.9 198.0L767.4 194.3L768.0 194.7L768.5 196.4L769.2 197.4L769.9 199.2L770.2 204.3L770.6 210.0L770.5 220.4L771.1 232.6L771.8 232.3L772.4 228.9L773.0 224.9L773.6 220.4L774.2 221.8L774.8 224.0L775.4 260.0L775.6 278.8L776.0 284.8L776.5 291.2L777.0 279.3L777.5 268.8L778.1 285.0L778.8 274.2L779.4 266.2L780.0 282.5L780.6 262.5L781.0 253.5L781.5 247.1L782.1 247.8L782.7 245.6L783.3 245.9L783.9 245.5L784.5 242.3L785.0 260.0L785.6 266.2L786.2 271.1L786.9 277.5L787.5 279.9L788.1 283.8L788.8 253.2L789.4 275.0L790.0 280.0L790.6 285.0L791.2 275.3L791.9 267.5L792.5 272.1L793.1 277.5L793.8 277.7L794.4 275.0L795.0 270.0L795.6 262.5L796.2 261.3L796.7 258.1L797.5 310.0L798.1 305.4L798.8 300.0L799.4 300.7L800.0 298.8L800.6 294.5L801.2 287.5L801.9 283.9L802.5 280.0L803.1 287.0L803.8 292.5L804.4 289.2L805.0 288.8L805.6 282.6L806.2 275.0L806.9 260.0L807.2 249.1L807.6 238.6L808.2 237.4L808.8 235.1L809.4 232.6L810.0 238.6L810.7 245.9L811.3 235.4L811.9 227.7L812.5 233.3L813.1 236.2L813.7 241.9L814.3 249.9L814.9 256.9L815.4 220.7L815.8 213.8L816.3 212.3L816.7 211.3L817.2 211.0L817.9 210.7L818.5 208.9L819.0 208.0L819.6 204.0L820.1 203.9L820.6 205.4L821.0 215.8L821.5 212.5L822.0 208.2L823.4 208.2L823.8 218.6L824.4 217.3L825.1 217.2L825.8 221.4L826.1 218.1L826.5 214.4L827.0 218.3L827.6 222.8L828.3 224.5L829.0 228.3L829.6 215.8L830.3 204.0L830.8 202.2L831.4 202.6L831.9 204.1L832.4 207.5L832.8 213.0L833.3 211.9L833.8 208.2L834.4 208.7L835.0 208.2L835.6 209.6L836.2 211.3L836.9 210.3L837.5 214.6L838.0 215.8L838.3 223.5L838.8 223.8L839.2 223.3L839.7 224.9L840.2 225.0L840.8 227.0L841.1 226.7L841.5 229.0L841.9 224.7L842.2 221.4L842.7 220.4L843.2 222.1L843.9 220.9L844.6 221.4L845.3 215.1L846.7 215.1L847.4 205.4L847.2 198.6L847.8 195.8L848.4 194.8L849.0 192.6L849.6 192.9L850.2 191.5L850.9 189.5L851.5 188.9L852.1 185.6L852.7 182.8L853.3 180.5L853.9 178.0L854.5 177.9L855.1 178.1L855.7 177.5L856.3 179.2L856.9 177.7L857.5 179.1L858.2 175.7L858.8 176.1L859.4 179.5L860.0 182.8L860.6 186.9L861.2 190.1L861.8 188.2L862.4 184.0L863.0 179.4L863.6 176.7L864.2 173.6L864.8 171.9L865.5 167.4L866.1 164.6L866.7 161.2L867.3 158.5L867.9 158.9L868.5 159.7L869.1 165.4L869.7 168.2L870.3 166.9L870.9 163.4L871.5 167.0L872.1 168.2L872.7 167.1L873.4 167.6L874.0 169.5L874.6 173.0L875.2 176.4L875.8 178.0L876.4 174.9L877.0 171.9L877.6 169.1L878.2 165.8L878.8 166.1L879.4 169.5L881.3 169.5L881.9 171.6L882.5 175.7L883.1 176.7L883.7 181.0L884.3 184.4L884.9 186.5L885.5 185.2L886.1 180.0L886.7 178.0L887.3 174.3L887.9 173.1L888.5 175.0L889.2 179.2L889.8 191.3L890.4 187.5L891.0 184.1L891.6 179.6L892.1 182.1L892.6 181.7L893.1 186.2L893.7 189.8L894.2 193.1L894.7 189.3L895.2 183.8L895.7 181.9L896.3 180.4L896.8 178.5L897.3 178.6L897.8 181.7L898.3 184.2L898.9 184.8L899.4 179.8L899.9 176.5L900.4 177.1L901.0 175.6L901.5 174.4L902.0 172.7L902.5 172.3L903.0 165.4L903.5 160.8L904.0 159.1L904.6 159.5L905.1 158.2L905.6 160.7L906.1 161.9L906.6 160.3L907.2 159.8L907.7 160.8L908.2 160.1L908.8 159.3L909.3 162.9L909.8 166.0L910.3 167.0L910.9 167.9L911.4 170.2L911.9 167.9L912.4 165.0L912.9 164.5L913.4 167.1L914.0 164.9L914.5 164.0L915.0 165.6L915.5 168.9L916.0 169.2L916.5 170.3L917.1 171.8L917.6 171.2L918.1 171.9L918.7 171.8L919.2 173.3L919.7 175.6L920.2 179.6L920.7 185.2L921.2 187.9L921.8 186.5L922.3 183.2L922.8 181.7L923.3 180.9L923.9 183.1L924.4 183.8L924.9 188.5L925.4 192.1L925.9 187.3L926.5 182.3L927.0 178.5L927.5 177.0L928.0 174.4L928.5 174.0L929.1 170.1L929.6 169.2L930.1 166.6L930.6 166.5L931.1 166.0L931.6 167.1L932.2 169.4L932.7 170.2L933.2 170.8L933.8 173.3L934.3 172.2L934.8 169.2L935.3 172.6L935.8 174.4L936.3 173.0L936.9 170.7L937.4 170.2L937.9 170.3L938.5 166.8L939.0 166.0L939.7 168.1L940.3 167.3L941.0 169.2L941.5 169.0L942.1 171.4L942.6 171.2L943.1 168.5L943.6 167.1L944.1 170.4L944.7 170.7L945.2 171.6L945.7 174.4L946.2 175.1L946.8 177.5L947.3 175.8L947.8 175.2L948.3 173.3L948.8 176.5L949.4 175.6L949.9 178.5L950.4 175.4L951.0 172.0L951.5 170.2L952.0 175.9L952.5 178.5" fill="none" stroke="#5882e6" stroke-width="1.7" stroke-linejoin="round" clip-path="url(#c4)"/>
<polygon points="204.3,260.6 208.9,346 210.6,346 207.6,260.6" fill="#5882e6"/>
<path d="M102.4 499.7L102.8 491.9L104.4 489.1L108.7 488.0L110.2 497.3L113.0 504.4L114.9 503.6L115.7 501.2L143.8 501.2L144.1 426.0L144.2 411.2L144.5 400.0L145.0 410.0L145.7 408.0L146.4 406.4L147.1 405.0L147.8 404.4L148.5 404.8L149.2 406.4L149.9 407.0L150.6 406.9L155.3 406.9L155.9 399.4L156.7 397.9L157.5 395.6L158.1 396.2L158.8 395.0L158.8 383.8L159.5 383.0L160.3 380.6L160.3 368.1L160.9 377.5L161.7 375.8L162.5 374.7L163.1 376.9L163.8 381.1L164.4 383.1L165.2 381.8L165.9 378.8L166.7 378.3L167.5 376.2L168.1 373.8L168.7 373.1L169.3 372.6L170.0 372.1L170.6 371.9L170.9 368.1L171.4 366.5L171.9 366.0L172.7 359.6L173.4 355.0L174.1 346.6L174.8 347.3L175.5 348.6L176.2 350.0L176.9 351.1L177.5 349.9L178.1 351.8L178.8 351.2L179.2 352.3L179.7 354.4L180.1 352.9L180.6 351.9L181.2 354.3L181.9 355.6L182.5 352.8L183.1 348.8L183.8 345.6L184.4 340.7L185.0 337.5L185.6 322.5L186.2 317.5L186.9 312.5L187.5 303.8L188.1 307.5L188.8 305.1L189.4 303.1L190.0 301.9L190.6 291.9L191.2 276.2L191.9 285.6L192.5 287.3L193.1 287.5L193.7 288.0L194.4 289.3L195.0 290.6L195.6 293.1L196.2 293.2L196.9 291.9L197.5 291.3L198.1 292.1L198.8 292.5L199.2 296.8L199.7 300.0L200.0 308.5L200.6 299.8L201.2 299.0L201.9 297.2L202.5 299.2L203.1 302.9L203.8 303.3L204.4 305.4L204.9 309.0L205.3 314.1L205.8 313.0L206.2 310.4L206.9 314.1L207.5 314.0L208.1 314.8L208.7 317.3L209.4 319.6L210.0 321.0L210.6 329.8L211.4 325.4L212.2 321.6L212.6 322.1L213.1 323.5L213.7 327.2L214.4 329.4L215.0 332.0L215.6 329.4L216.3 328.0L216.9 325.4L217.5 324.4L218.2 323.7L218.8 322.6L219.4 322.9L220.0 320.9L220.6 317.9L221.3 315.2L222.1 311.3L222.8 307.6L223.3 308.8L223.8 308.5L224.4 308.7L225.0 310.1L225.6 311.6L226.1 311.0L226.6 310.4L227.2 313.5L227.8 315.8L228.4 317.2L229.2 315.8L230.0 314.8L230.7 313.8L231.5 313.6L232.2 313.2L232.8 313.9L233.5 315.4L234.1 315.4L234.8 314.4L235.5 315.1L236.1 314.5L236.8 314.2L237.5 313.2L238.3 314.0L239.1 314.0L239.8 313.8L240.6 314.4L241.4 313.7L242.2 313.4L243.0 313.8L243.8 312.9L244.4 311.0L245.0 310.2L245.6 310.1L246.2 308.5L246.9 307.9L247.5 307.4L248.1 307.2L248.8 307.9L249.4 306.1L250.0 303.8L250.6 302.2L251.2 302.3L251.9 301.3L252.5 299.8L253.1 298.4L253.7 295.0L254.3 293.2L254.9 295.5L255.5 299.3L256.1 298.0L256.7 298.1L257.3 297.5L258.0 297.1L258.7 295.9L259.5 294.8L260.2 294.4L260.9 293.8L261.6 294.7L262.3 295.5L263.0 296.3L263.7 297.2L264.4 297.6L265.1 297.3L265.8 298.7L266.6 298.4L267.4 296.6L268.2 296.2L268.9 295.0L269.7 294.8L270.5 292.9L271.3 292.6L272.0 292.2L272.7 292.3L273.4 292.3L274.1 293.7L274.8 293.2L275.5 293.2L276.2 290.9L277.0 289.1L277.7 288.3L278.5 285.5L279.2 283.5L279.9 281.1L280.6 280.2L281.4 278.0L282.1 276.6L282.8 273.8L283.4 271.3L284.1 270.1L284.7 268.9L285.3 266.5L285.9 262.2L286.5 256.8L287.1 253.2L287.7 248.2L288.3 239.8L288.9 233.0L289.5 259.2L290.1 242.2L290.7 242.4L291.3 243.4L292.0 246.4L292.6 250.7L293.2 248.3L293.8 247.0L294.6 247.3L295.4 245.9L296.2 245.2L296.8 247.2L297.4 247.4L298.0 249.5L298.6 250.0L299.2 250.8L299.9 251.4L300.5 253.3L301.1 253.7L301.7 259.2L302.3 257.0L302.9 253.1L303.6 252.1L304.3 252.7L305.0 252.4L305.7 251.4L306.4 251.4L307.1 251.3L307.7 249.3L308.4 248.0L309.0 246.7L309.6 245.8L313.8 245.8L314.4 249.5L315.0 248.0L315.7 246.5L316.3 244.6L316.9 240.4L317.5 237.3L318.2 235.7L318.8 230.9L319.3 227.6L319.9 224.0L320.3 222.8L320.7 221.0L321.3 211.9L321.9 204.0L322.5 201.3L323.1 199.2L323.6 200.8L324.1 203.4L324.9 215.0L325.5 212.7L326.1 209.4L326.7 206.5L327.3 205.1L327.8 204.5L328.4 204.6L329.0 204.9L329.6 205.6L330.2 206.2L330.8 206.4L331.4 205.9L332.0 206.2L332.6 207.0L333.2 209.0L333.9 210.2L334.5 211.6L335.1 213.7L335.7 212.6L336.3 212.9L336.9 211.3L337.6 212.5L338.4 214.5L339.1 215.6L339.9 217.4L340.5 216.9L341.1 217.4L341.8 217.3L342.4 216.1L343.0 216.6L343.6 217.1L344.2 218.8L344.8 219.2L345.6 218.3L346.4 217.5L347.2 218.0L347.8 217.0L348.4 214.5L349.1 213.6L349.7 211.3L350.4 211.4L351.2 212.6L351.9 212.1L352.7 212.5L353.3 211.7L353.9 211.3L354.5 212.1L355.1 211.9L355.8 212.5L356.5 213.2L357.2 212.1L358.0 213.3L358.7 213.2L359.4 213.7L359.9 214.7L360.5 215.6L361.2 215.5L361.9 216.2L362.6 217.1L363.3 218.4L364.0 217.4L364.7 218.6L365.3 219.5L365.9 221.0L366.6 222.2L367.2 222.3L367.8 222.8L368.4 223.6L369.0 225.3L369.8 225.1L370.6 224.2L371.4 222.3L372.0 221.7L372.6 220.3L373.2 220.5L374.0 221.7L374.8 221.2L375.5 222.6L376.3 222.3L377.1 223.7L377.9 225.3L378.7 225.9L379.3 226.2L379.9 228.3L380.5 228.2L381.1 229.6L381.8 233.1L382.4 236.9L383.0 235.5L383.6 233.4L384.2 230.8L384.8 230.8L385.4 231.5L386.0 232.4L386.6 233.2L387.3 232.3L388.1 231.1L388.8 229.6L389.6 228.9L390.3 228.4L391.1 229.6L391.9 230.7L392.7 230.8L393.4 230.6L394.2 232.1L394.9 233.1L395.7 233.2L396.4 232.2L397.1 233.4L397.9 231.9L398.6 232.6L399.3 232.3L400.0 232.0L400.7 232.6L401.4 232.4L402.2 232.9L402.9 233.6L403.6 233.8L404.2 232.9L404.9 232.6L405.5 231.5L406.1 230.8L406.9 229.5L407.7 227.5L408.5 227.2L409.2 227.7L410.0 227.8L410.8 227.6L411.5 228.4L412.3 230.2L413.1 231.6L413.8 232.4L414.6 233.8L415.4 232.8L416.2 233.0L417.0 232.6L417.7 231.6L418.4 231.3L419.1 231.6L419.9 230.7L420.6 231.0L421.3 230.8L422.1 229.6L422.9 227.6L423.7 227.2L424.3 226.6L424.9 224.8L425.5 224.7L426.1 225.7L426.7 225.9L427.3 225.5L427.9 224.1L428.6 222.4L429.2 222.3L429.9 220.5L430.6 218.8L431.2 218.7L431.9 220.0L432.5 219.4L433.1 218.5L433.8 219.6L434.4 218.8L435.0 221.5L435.6 222.5L436.2 223.1L436.9 223.4L437.5 222.4L438.1 223.1L438.7 223.2L439.4 221.5L440.0 221.6L440.6 220.0L441.4 220.9L442.2 219.7L443.0 221.0L443.8 220.6L444.4 221.2L445.0 219.5L445.6 219.9L446.2 220.0L446.9 220.3L447.5 219.1L448.1 220.3L448.8 219.4L449.4 218.7L450.0 219.3L450.6 217.8L451.2 218.1L452.0 218.3L452.7 219.2L453.4 218.1L454.1 218.8L454.9 216.4L455.6 215.0L456.2 212.9L456.9 210.5L457.5 208.8L458.1 207.5L458.8 208.5L459.4 211.2L460.0 210.3L460.6 209.8L461.2 210.0L461.9 211.0L462.5 210.7L463.1 210.6L463.9 213.2L464.7 214.4L465.5 213.2L466.2 213.1L468.8 213.1L469.4 213.3L470.0 212.5L470.6 212.0L471.3 213.0L471.9 213.1L472.5 213.0L473.1 212.2L473.8 212.9L474.4 211.9L475.0 211.8L475.6 211.6L476.2 211.2L476.9 211.3L477.5 209.3L478.1 209.4L478.7 210.0L479.4 209.0L480.0 208.4L480.7 207.9L481.4 208.4L482.1 207.2L482.8 208.2L483.5 207.2L484.2 206.5L484.9 206.5L485.5 205.3L486.1 203.0L486.7 200.9L487.3 199.8L487.9 203.3L488.5 205.9L489.2 204.4L490.0 205.0L490.7 203.3L491.5 203.3L492.2 202.3L492.9 202.2L493.6 200.5L494.4 199.7L495.1 198.0L495.8 197.4L496.6 198.1L497.4 199.8L498.2 202.3L499.0 200.6L499.8 200.4L500.5 199.0L501.3 198.0L502.0 197.0L502.7 196.7L503.4 195.0L504.1 192.6L504.8 191.0L505.5 190.1L506.3 187.2L507.0 185.4L507.7 184.6L508.3 183.3L508.9 181.7L509.5 181.1L510.1 180.3L510.7 180.3L511.3 181.4L511.9 181.8L512.5 182.1L513.2 182.8L513.8 184.8L514.4 185.7L515.0 187.0L515.8 184.3L516.6 183.7L517.4 180.9L518.1 178.3L518.9 175.9L519.6 173.6L520.4 172.4L521.1 170.0L521.9 171.6L522.6 172.3L523.4 172.5L524.1 173.6L524.9 171.4L525.6 169.1L526.4 168.4L527.1 166.3L527.8 165.9L528.6 165.1L529.3 165.1L530.1 164.3L530.8 163.9L531.4 163.8L532.0 162.5L532.6 160.7L533.2 160.3L533.8 158.6L534.4 154.6L535.0 153.0L535.6 150.5L536.3 146.1L536.9 142.0L537.5 140.9L538.1 140.8L538.7 142.0L539.3 145.4L539.9 146.9L540.5 143.9L541.1 142.6L541.7 144.9L542.4 147.9L543.0 149.3L543.8 151.5L544.6 154.4L545.4 157.8L546.2 156.0L547.0 153.7L547.8 151.7L548.5 152.8L549.2 153.9L549.9 153.6L550.6 155.0L551.3 156.5L552.0 158.8L552.5 159.2L553.1 159.6L553.6 161.2L554.4 159.8L555.1 156.9L555.7 156.6L556.4 155.6L557.0 154.4L557.6 154.3L558.2 156.6L558.9 157.2L559.5 157.5L560.1 158.3L560.8 159.6L561.4 160.0L562.0 160.5L562.6 160.8L563.3 161.2L563.9 162.5L564.6 162.6L565.4 163.8L565.9 162.5L566.5 162.6L567.0 162.5L567.7 161.7L568.4 160.4L569.1 159.4L569.8 157.5L570.5 159.7L571.3 160.8L572.0 163.1L572.8 162.6L573.5 161.7L574.3 161.7L575.1 160.6L575.7 161.5L576.4 161.8L577.0 163.1L577.6 163.0L578.3 163.1L578.9 161.9L579.7 161.5L580.5 162.9L581.2 161.5L582.0 162.5L585.1 162.5L585.8 164.3L586.4 166.9L587.0 171.9L587.6 172.0L588.2 173.1L588.9 174.8L589.5 176.4L590.1 176.9L590.8 175.1L591.4 172.5L592.0 172.4L592.6 173.6L593.2 173.1L593.9 173.4L594.5 173.9L595.1 175.0L595.7 175.9L596.4 175.5L597.0 175.8L597.6 175.6L598.3 175.1L599.0 174.9L599.7 173.2L600.4 172.5L600.9 173.5L601.5 173.7L602.0 173.8L602.8 174.1L603.5 173.0L604.3 173.2L605.1 172.5L605.7 171.0L606.4 168.8L607.0 167.5L607.8 166.7L608.5 167.1L609.3 165.8L610.1 166.2L610.8 165.1L611.4 162.5L612.0 159.7L612.6 158.1L613.1 156.7L613.7 156.4L614.2 156.6L614.8 158.1L615.4 157.8L616.0 158.8L616.5 154.8L617.0 152.2L617.6 150.1L618.2 148.9L618.8 148.5L619.5 149.4L620.1 149.7L620.7 151.2L621.3 152.5L621.9 153.4L622.7 152.6L623.5 150.2L624.3 149.7L624.9 150.6L625.5 151.0L626.1 152.6L626.7 152.8L629.2 152.8L630.0 155.0L630.8 156.7L631.6 157.6L632.3 156.7L633.1 158.0L633.8 158.0L634.6 157.9L635.3 157.0L635.9 155.7L636.5 155.3L637.1 155.2L637.8 155.4L638.5 156.1L639.3 158.4L640.0 159.2L640.7 159.5L641.5 160.2L642.2 161.0L643.0 161.1L643.8 161.3L644.5 159.8L645.3 158.4L646.0 157.4L646.8 157.0L647.5 156.7L648.3 155.0L649.0 154.4L649.8 154.0L650.4 153.6L651.0 152.5L651.7 152.7L652.3 152.8L653.0 153.2L653.8 154.7L654.5 154.8L655.3 155.8L655.9 161.6L656.5 168.0L657.1 167.0L657.8 164.3L658.4 162.5L659.1 162.7L659.9 161.8L660.6 160.3L661.4 160.7L662.1 158.9L662.9 157.2L663.6 156.2L664.4 154.0L666.9 154.0L667.6 153.8L668.3 154.6L669.1 154.4L669.8 154.0L670.5 154.6L671.2 155.4L672.0 154.1L672.7 155.5L673.5 154.5L674.2 155.2L675.0 154.7L675.6 152.4L676.2 151.4L676.8 150.5L677.6 150.8L678.3 151.0L679.1 149.1L679.9 149.8L680.7 150.6L681.5 151.5L682.3 152.3L684.7 152.3L685.5 151.9L686.2 149.9L687.0 149.5L687.8 148.6L688.5 147.1L689.3 146.8L690.0 144.6L690.8 143.8L691.4 143.7L692.0 141.6L692.6 140.5L693.2 140.1L694.0 140.2L694.8 139.5L695.5 138.5L696.3 138.9L696.9 137.5L697.5 134.9L698.1 134.0L698.7 131.3L699.3 127.9L699.9 124.3L700.5 126.0L701.1 126.7L701.8 128.2L702.4 129.2L703.2 125.7L704.0 122.6L704.8 119.5L705.4 118.1L706.0 117.0L706.6 119.0L707.2 119.5L707.8 117.5L708.4 117.7L709.0 115.8L709.6 115.1L710.2 115.6L710.9 115.8L711.5 116.4L712.3 116.7L713.1 115.6L713.9 115.2L714.7 115.8L715.5 117.5L716.3 117.6L717.0 116.8L717.6 117.0L718.2 119.8L718.8 122.7L719.4 125.5L721.8 125.5L722.4 126.6L723.0 127.2L723.6 127.4L724.2 127.8L724.9 127.4L725.5 127.5L726.1 128.0L726.7 128.0L727.3 129.8L727.9 129.8L728.7 127.5L729.5 125.0L730.3 121.9L730.9 120.7L731.5 120.6L732.2 120.6L732.8 119.5L735.2 119.5L736.0 120.8L736.8 121.2L737.6 123.1L738.2 121.0L738.8 119.7L739.4 117.0L740.0 115.5L740.7 114.4L741.3 114.0L744.3 114.0L744.9 114.4L745.5 115.9L746.1 116.9L746.7 117.0L747.3 117.0L748.0 117.6L748.6 118.4L749.2 119.5L749.9 119.6L750.5 120.3L751.1 120.1L751.8 121.1L752.6 122.0L753.3 123.0L754.1 125.6L754.9 126.0L755.7 125.2L756.5 122.9L757.3 122.4L757.9 124.2L758.5 123.7L759.1 125.4L759.7 124.4L760.3 124.7L760.9 123.0L761.5 123.9L762.2 124.2L762.8 124.2L763.4 122.8L764.0 121.2L764.6 120.5L765.2 121.6L765.8 121.5L766.4 123.0L767.2 122.9L768.0 123.7L768.7 123.5L769.5 124.8L770.1 127.1L770.7 129.7L771.3 130.6L771.9 130.8L772.5 130.9L773.3 130.5L774.1 130.3L774.9 129.7L775.5 133.9L776.1 138.2L776.8 137.9L777.4 138.8L778.1 138.5L778.9 137.7L779.6 137.8L780.4 136.9L781.0 137.0L781.6 135.6L782.2 135.1L782.8 135.1L783.5 135.2L784.1 134.5L784.7 134.5L785.3 135.4L785.9 137.8L786.5 138.8L787.3 139.1L788.1 138.5L788.9 137.6L789.6 138.4L790.4 139.1L791.1 139.3L791.9 139.4L792.6 139.4L793.3 138.7L794.0 138.2L794.8 138.4L795.5 137.2L796.2 137.6L796.8 139.9L797.4 142.4L798.2 143.1L799.0 143.2L799.8 143.0L800.5 143.0L801.3 142.1L802.0 142.1L802.8 142.0L803.5 141.8L805.9 141.8L806.5 140.2L807.2 138.0L807.8 136.3L808.4 136.2L809.0 136.3L809.6 135.1L810.4 134.3L811.2 135.0L812.0 134.5L812.8 136.2L813.6 136.8L814.4 138.2L815.0 135.9L815.7 134.6L816.3 131.5L817.0 130.5L817.8 131.3L818.5 130.4L819.3 130.9L819.9 131.1L820.5 130.3L821.1 131.4L821.8 130.9L822.4 130.5L823.0 131.5L823.7 131.9L824.3 132.1L825.0 132.3L825.6 132.5L826.3 132.0L826.9 131.8L827.5 132.7L828.2 133.7L828.8 133.7L829.4 132.3L830.1 130.7L830.7 129.4L831.3 130.4L832.0 129.2L832.6 129.9L833.3 130.4L834.0 130.0L834.8 130.7L835.5 130.4L837.4 130.4L838.0 130.5L838.7 132.9L839.3 132.8L839.9 132.6L840.5 132.2L841.1 132.7L841.7 133.2L842.5 132.7L843.3 131.7L844.1 132.3L844.9 132.0L845.7 131.8L846.5 131.8L847.2 130.3L847.9 128.0L848.5 127.2L849.2 126.6L849.8 126.5L850.5 125.7L851.2 126.2L852.0 126.2L852.7 125.1L853.3 124.2L854.0 122.7L854.6 122.2L856.5 122.2L857.3 122.4L858.1 121.4L858.9 121.3L859.7 121.6L860.5 122.2L861.3 123.7L861.9 123.7L862.6 123.3L863.2 122.2L863.9 120.5L864.6 118.4L865.4 117.9L866.1 117.5L866.8 115.5L867.5 113.2L868.2 112.2L868.9 112.2L869.4 113.8L869.9 113.7L870.5 113.1L871.2 113.3L871.8 112.7L872.4 113.6L873.1 113.9L873.7 113.7L874.3 114.1L875.0 114.3L875.6 115.1L876.2 114.9L876.9 113.8L877.5 114.1L878.1 114.2L878.8 112.9L879.4 112.7L881.4 112.7L882.0 113.8L882.7 113.2L883.3 114.1L884.1 114.7L884.8 115.3L885.6 116.5L886.3 115.4L886.9 114.1L887.6 113.7L888.4 113.6L889.2 115.6L890.0 116.0L890.6 115.1L891.3 114.6L891.9 114.6L892.7 115.0L893.4 116.2L894.2 117.0L895.0 116.1L895.7 115.1L896.5 114.7L897.2 113.6L898.0 114.7L898.8 115.2L899.4 114.2L900.0 114.5L900.6 113.0L901.2 113.3L901.9 111.5L902.5 112.0L903.0 110.6L903.4 108.0L904.0 107.9L904.7 106.8L905.3 105.5L905.8 104.7L906.4 105.7L906.9 104.9L907.5 104.8L908.1 103.4L908.8 104.0L909.5 104.0L910.3 105.8L910.8 106.3L911.4 105.5L911.9 104.9L912.5 104.2L913.1 103.6L913.8 104.0L914.4 103.8L915.0 104.3L915.6 105.2L916.2 105.8L916.9 105.1L917.5 104.8L918.1 105.5L918.7 107.0L919.4 107.5L920.0 107.7L920.6 107.7L921.2 108.9L921.9 109.2L922.5 108.3L923.1 107.7L923.8 108.7L924.6 109.0L925.3 109.2L926.0 108.9L926.8 107.7L927.5 106.1L928.2 106.0L929.0 104.2L929.8 104.4L930.5 103.4L931.2 102.7L931.9 103.3L932.5 102.9L933.1 103.8L933.8 103.3L934.4 103.5L935.0 103.2L935.6 103.3L936.2 103.9L936.9 102.7L937.5 102.8L938.1 101.5L938.8 101.8L939.4 101.5L940.0 100.7L940.6 101.1L941.3 101.0L942.0 100.9L942.7 100.9L943.4 100.8L943.9 101.9L944.5 100.8L945.0 102.1L945.6 102.9L946.3 102.4L946.9 102.7L947.5 102.5L948.1 102.4L948.8 101.8L949.4 102.7L950.0 102.4L950.5 101.5L951.1 101.0L951.6 100.5L952.2 102.3L952.8 102.4" fill="none" stroke="#1a1a1a" stroke-width="1.05" stroke-linejoin="round"/>
<rect x="22" y="162" width="36" height="24" fill="#e8711c"/>
<text x="40" y="178.4" text-anchor="middle" font-size="12" fill="#fff">0.52*</text>
<rect x="958" y="88.2" width="66" height="23.3" fill="#111"/>
<text x="990.5" y="104.6" text-anchor="middle" font-size="12" fill="#fff">$113.007K</text>
<text x="870.6" y="562" font-size="9.7" fill="#8a8a8a" textLength="128" lengthAdjust="spacingAndGlyphs">&#169; CryptoQuant. All rights reserved</text>
</svg>
</body></html>
